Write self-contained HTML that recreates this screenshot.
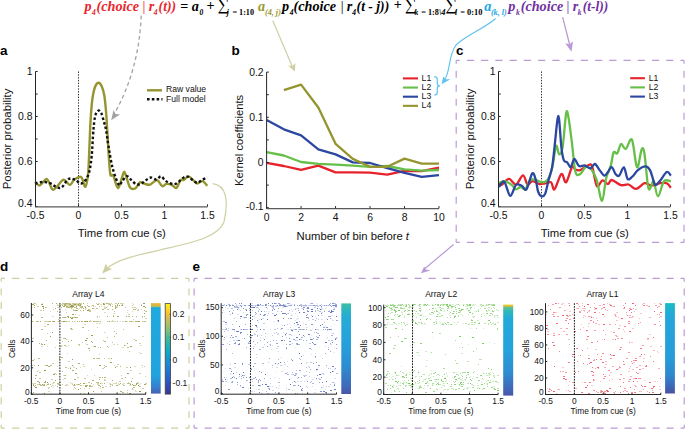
<!DOCTYPE html>
<html><head><meta charset="utf-8"><style>
html,body{margin:0;padding:0;background:#fff;overflow:hidden;}
svg{display:block;font-family:'Liberation Sans',sans-serif;}

</style></head><body>
<svg width="685" height="429" viewBox="0 0 685 429">
<rect width="685" height="429" fill="#fff"/>
<text x="84.6" y="10.6" font-family="'Liberation Serif', serif" font-size="14.2" font-weight="bold" font-style="italic" fill="#e8262d">p</text>
<text x="91.9" y="14.6" font-family="'Liberation Serif', serif" font-size="7.5" font-weight="bold" font-style="italic" fill="#e8262d">4</text>
<text x="96.6" y="10.6" font-family="'Liberation Serif', serif" font-size="14.2" font-weight="bold" font-style="italic" fill="#e8262d">(choice</text>
<text x="142.6" y="10.6" font-family="'Liberation Serif', serif" font-size="14.2" font-weight="normal" font-style="normal" fill="#e8262d">|</text>
<text x="148.7" y="10.6" font-family="'Liberation Serif', serif" font-size="14.2" font-weight="bold" font-style="italic" fill="#e8262d">r</text>
<text x="153.7" y="14.6" font-family="'Liberation Serif', serif" font-size="7.5" font-weight="bold" font-style="italic" fill="#e8262d">4</text>
<text x="158.6" y="10.6" font-family="'Liberation Serif', serif" font-size="14.2" font-weight="bold" font-style="italic" fill="#e8262d" textLength="17.6" lengthAdjust="spacingAndGlyphs">(t))</text>
<text x="180.2" y="10.6" font-family="'Liberation Serif', serif" font-size="14.2" font-weight="bold" font-style="normal" fill="#000">=</text>
<text x="191.7" y="10.6" font-family="'Liberation Serif', serif" font-size="14.2" font-weight="bold" font-style="italic" fill="#000">a</text>
<text x="199.4" y="14.6" font-family="'Liberation Serif', serif" font-size="7.5" font-weight="bold" font-style="italic" fill="#000">0</text>
<text x="206.4" y="9.8" font-family="'Liberation Serif', serif" font-size="14.2" font-weight="bold" font-style="normal" fill="#000">+</text>
<text x="217.5" y="9.9" font-family="'Liberation Serif', serif" font-size="16.3" font-weight="normal" font-style="normal" fill="#000">&#8721;</text>
<text x="226.8" y="15.1" font-family="'Liberation Serif', serif" font-size="7.5" font-weight="bold" font-style="italic" fill="#000">j</text>
<text x="232.4" y="15.1" font-family="'Liberation Serif', serif" font-size="7.5" font-weight="bold" font-style="normal" fill="#000" textLength="21.6" lengthAdjust="spacingAndGlyphs">= 1:10</text>
<text x="258" y="10.6" font-family="'Liberation Serif', serif" font-size="14.2" font-weight="bold" font-style="italic" fill="#9a992e">a</text>
<text x="264.9" y="14.9" font-family="'Liberation Serif', serif" font-size="7.2" font-weight="bold" font-style="italic" fill="#9a992e" textLength="16" lengthAdjust="spacingAndGlyphs">(4, j)</text>
<text x="282" y="10.6" font-family="'Liberation Serif', serif" font-size="14.2" font-weight="bold" font-style="italic" fill="#000">p</text>
<text x="289.8" y="14.6" font-family="'Liberation Serif', serif" font-size="7.5" font-weight="bold" font-style="italic" fill="#000">4</text>
<text x="293.6" y="10.6" font-family="'Liberation Serif', serif" font-size="14.2" font-weight="bold" font-style="italic" fill="#000">(choice</text>
<text x="340.7" y="10.6" font-family="'Liberation Serif', serif" font-size="14.2" font-weight="normal" font-style="normal" fill="#000">|</text>
<text x="346.7" y="10.6" font-family="'Liberation Serif', serif" font-size="14.2" font-weight="bold" font-style="italic" fill="#000">r</text>
<text x="352.2" y="14.6" font-family="'Liberation Serif', serif" font-size="7.5" font-weight="bold" font-style="italic" fill="#000">4</text>
<text x="356.6" y="10.6" font-family="'Liberation Serif', serif" font-size="14.2" font-weight="bold" font-style="italic" fill="#000" textLength="32.6" lengthAdjust="spacingAndGlyphs">(t - j))</text>
<text x="393.8" y="9.4" font-family="'Liberation Serif', serif" font-size="14.2" font-weight="bold" font-style="normal" fill="#000">+</text>
<text x="404.8" y="9.9" font-family="'Liberation Serif', serif" font-size="16.3" font-weight="normal" font-style="normal" fill="#000">&#8721;</text>
<text x="414.6" y="15.1" font-family="'Liberation Serif', serif" font-size="7.5" font-weight="bold" font-style="italic" fill="#000">k</text>
<text x="421.2" y="15.1" font-family="'Liberation Serif', serif" font-size="7.5" font-weight="bold" font-style="normal" fill="#000" textLength="17.6" lengthAdjust="spacingAndGlyphs">= 1:8</text>
<text x="439" y="15.1" font-family="'Liberation Serif', serif" font-size="7.5" font-weight="bold" font-style="italic" fill="#000" textLength="6.6" lengthAdjust="spacingAndGlyphs">\4</text>
<text x="445.2" y="9.9" font-family="'Liberation Serif', serif" font-size="16.3" font-weight="normal" font-style="normal" fill="#000">&#8721;</text>
<text x="455" y="15.1" font-family="'Liberation Serif', serif" font-size="7.5" font-weight="bold" font-style="italic" fill="#000">l</text>
<text x="460.2" y="15.1" font-family="'Liberation Serif', serif" font-size="7.5" font-weight="bold" font-style="normal" fill="#000" textLength="22.2" lengthAdjust="spacingAndGlyphs">= 0:10</text>
<text x="484.3" y="10.6" font-family="'Liberation Serif', serif" font-size="14.2" font-weight="bold" font-style="italic" fill="#1ea5e6">a</text>
<text x="490.9" y="14.9" font-family="'Liberation Serif', serif" font-size="7.2" font-weight="bold" font-style="italic" fill="#1ea5e6" textLength="15.8" lengthAdjust="spacingAndGlyphs">(k, l)</text>
<text x="508.3" y="10.6" font-family="'Liberation Serif', serif" font-size="14.2" font-weight="bold" font-style="italic" fill="#7031a0">p</text>
<text x="515.9" y="14.6" font-family="'Liberation Serif', serif" font-size="7.5" font-weight="bold" font-style="italic" fill="#7031a0">k</text>
<text x="520.7" y="10.6" font-family="'Liberation Serif', serif" font-size="14.2" font-weight="bold" font-style="italic" fill="#7031a0">(choice</text>
<text x="566.4" y="10.6" font-family="'Liberation Serif', serif" font-size="14.2" font-weight="normal" font-style="normal" fill="#7031a0">|</text>
<text x="572.8" y="10.6" font-family="'Liberation Serif', serif" font-size="14.2" font-weight="bold" font-style="italic" fill="#7031a0">r</text>
<text x="577.8" y="14.6" font-family="'Liberation Serif', serif" font-size="7.5" font-weight="bold" font-style="italic" fill="#7031a0">k</text>
<text x="582.8" y="10.6" font-family="'Liberation Serif', serif" font-size="14.2" font-weight="bold" font-style="italic" fill="#7031a0" textLength="25.6" lengthAdjust="spacingAndGlyphs">(t-l))</text>
<text x="0" y="55" font-family="'Liberation Sans', sans-serif" font-size="13.5" fill="#000" text-anchor="start" font-weight="bold" font-style="normal" >a</text>
<line x1="78.5" y1="71.5" x2="78.5" y2="206.5" stroke="#333" stroke-width="1" stroke-dasharray="1.4 1.4"/>
<path d="M35,181.9 C35.82,182.48 37.92,185.87 39.9,185.4 C41.88,184.93 44.8,178.4 46.9,179.1 C49,179.8 50.75,188.43 52.5,189.6 C54.25,190.77 55.55,187.73 57.4,186.1 C59.25,184.47 61.52,179.98 63.6,179.8 C65.68,179.62 68.15,185 69.9,185 C71.65,185 72.23,181.13 74.1,179.8 C75.97,178.47 79.23,175.83 81.1,177 C82.97,178.17 84.13,187.38 85.3,186.8 C86.47,186.22 87.43,179.63 88.1,173.5 C88.77,167.37 88.88,158.92 89.3,150 C89.72,141.08 90.07,128.67 90.6,120 C91.13,111.33 91.77,103.5 92.5,98 C93.23,92.5 94.03,89.55 95,87 C95.97,84.45 97.2,82.87 98.3,82.7 C99.4,82.53 100.58,83.78 101.6,86 C102.62,88.22 103.62,91.17 104.4,96 C105.18,100.83 105.73,107.67 106.3,115 C106.87,122.33 107.32,132.17 107.8,140 C108.28,147.83 108.75,156.17 109.2,162 C109.65,167.83 109.82,172.73 110.5,175 C111.18,177.27 112.03,173.4 113.3,175.6 C114.57,177.8 116.42,188.6 118.1,188.2 C119.78,187.8 122.18,175.55 123.4,173.2 C124.62,170.85 124.28,171.72 125.4,174.1 C126.52,176.48 128.42,185.15 130.1,187.5 C131.78,189.85 133.82,189.08 135.5,188.2 C137.18,187.32 138.63,182.92 140.2,182.2 C141.77,181.48 143.23,183.5 144.9,183.9 C146.57,184.3 148.18,185.23 150.2,184.6 C152.22,183.97 154.98,179.83 157,180.1 C159.02,180.37 160.75,185.57 162.3,186.2 C163.85,186.83 164.73,184.13 166.3,183.9 C167.87,183.67 170.02,184.13 171.7,184.8 C173.38,185.47 174.93,188.68 176.4,187.9 C177.87,187.12 179.27,181.43 180.5,180.1 C181.73,178.77 182.47,180.52 183.8,179.9 C185.13,179.28 186.93,176.37 188.5,176.4 C190.07,176.43 191.75,178.92 193.2,180.1 C194.65,181.28 195.63,183.32 197.2,183.5 C198.77,183.68 200.92,180.82 202.6,181.2 C204.28,181.58 206.52,185.03 207.3,185.8" fill="none" stroke="#959530" stroke-width="2.4" stroke-linejoin="round" />
<path d="M35,183.3 C36.4,183.08 40.83,182 43.4,182 C45.97,182 48.3,182.5 50.4,183.3 C52.5,184.1 54.13,186.1 56,186.8 C57.87,187.5 59.52,188.78 61.6,187.5 C63.68,186.22 66.18,180.38 68.5,179.1 C70.82,177.82 73.63,179.1 75.5,179.8 C77.37,180.5 78.3,182.93 79.7,183.3 C81.1,183.67 82.38,183.63 83.9,182 C85.42,180.37 87.52,177.7 88.8,173.5 C90.08,169.3 90.83,164.05 91.6,156.8 C92.37,149.55 92.8,136.8 93.4,130 C94,123.2 94.42,119.22 95.2,116 C95.98,112.78 97.1,111.2 98.1,110.7 C99.1,110.2 100.22,111.12 101.2,113 C102.18,114.88 103.18,119.17 104,122 C104.82,124.83 105.37,126.07 106.1,130 C106.83,133.93 107.32,139.27 108.4,145.6 C109.48,151.93 110.87,161.48 112.6,168 C114.33,174.52 117.23,182.45 118.8,184.7 C120.37,186.95 120.68,182.93 122,181.5 C123.32,180.07 125.13,176.33 126.7,176.1 C128.27,175.87 129.83,178.75 131.4,180.1 C132.97,181.45 134.53,183.57 136.1,184.2 C137.67,184.83 139.12,184.58 140.8,183.9 C142.48,183.22 144.52,181.17 146.2,180.1 C147.88,179.03 149.22,177.6 150.9,177.5 C152.58,177.4 154.62,179.68 156.3,179.5 C157.98,179.32 159.55,176.25 161,176.4 C162.45,176.55 163.67,179.33 165,180.4 C166.33,181.47 167.43,182.17 169,182.8 C170.57,183.43 172.72,184.42 174.4,184.2 C176.08,183.98 177.53,182.62 179.1,181.5 C180.67,180.38 182.23,178.28 183.8,177.5 C185.37,176.72 187.05,176.4 188.5,176.8 C189.95,177.2 191.05,178.9 192.5,179.9 C193.95,180.9 195.63,182.77 197.2,182.8 C198.77,182.83 200.22,181.03 201.9,180.1 C203.58,179.17 206.4,177.68 207.3,177.2" fill="none" stroke="#111" stroke-width="2.4" stroke-linejoin="round" stroke-dasharray="2.6 2.2"/>
<line x1="35.5" y1="71.5" x2="35.5" y2="207" stroke="#262626" stroke-width="1" />
<line x1="35.5" y1="206.5" x2="37.7" y2="206.5" stroke="#262626" stroke-width="1" />
<line x1="35.5" y1="184" x2="37.7" y2="184" stroke="#262626" stroke-width="1" />
<line x1="35.5" y1="161.5" x2="37.7" y2="161.5" stroke="#262626" stroke-width="1" />
<line x1="35.5" y1="139" x2="37.7" y2="139" stroke="#262626" stroke-width="1" />
<line x1="35.5" y1="116.5" x2="37.7" y2="116.5" stroke="#262626" stroke-width="1" />
<line x1="35.5" y1="94" x2="37.7" y2="94" stroke="#262626" stroke-width="1" />
<line x1="35.5" y1="71.5" x2="37.7" y2="71.5" stroke="#262626" stroke-width="1" />
<text x="32.5" y="75.22" font-family="'Liberation Sans', sans-serif" font-size="10.4" fill="#111" text-anchor="end" font-weight="normal" font-style="normal" >1</text>
<text x="32.5" y="120.22" font-family="'Liberation Sans', sans-serif" font-size="10.4" fill="#111" text-anchor="end" font-weight="normal" font-style="normal" >0.8</text>
<text x="32.5" y="165.22" font-family="'Liberation Sans', sans-serif" font-size="10.4" fill="#111" text-anchor="end" font-weight="normal" font-style="normal" >0.6</text>
<text x="32.5" y="206.62" font-family="'Liberation Sans', sans-serif" font-size="10.4" fill="#111" text-anchor="end" font-weight="normal" font-style="normal" >0.4</text>
<line x1="35" y1="206.9" x2="207.5" y2="206.9" stroke="#5a5a5a" stroke-width="1.2" />
<line x1="35.5" y1="206.5" x2="35.5" y2="204.3" stroke="#262626" stroke-width="1" />
<line x1="78.5" y1="206.5" x2="78.5" y2="204.3" stroke="#262626" stroke-width="1" />
<line x1="121.5" y1="206.5" x2="121.5" y2="204.3" stroke="#262626" stroke-width="1" />
<line x1="164.5" y1="206.5" x2="164.5" y2="204.3" stroke="#262626" stroke-width="1" />
<line x1="207.5" y1="206.5" x2="207.5" y2="204.3" stroke="#262626" stroke-width="1" />
<text x="35.5" y="219.1" font-family="'Liberation Sans', sans-serif" font-size="10.4" fill="#111" text-anchor="middle" font-weight="normal" font-style="normal" >-0.5</text>
<text x="78.5" y="219.1" font-family="'Liberation Sans', sans-serif" font-size="10.4" fill="#111" text-anchor="middle" font-weight="normal" font-style="normal" >0</text>
<text x="121.5" y="219.1" font-family="'Liberation Sans', sans-serif" font-size="10.4" fill="#111" text-anchor="middle" font-weight="normal" font-style="normal" >0.5</text>
<text x="164.5" y="219.1" font-family="'Liberation Sans', sans-serif" font-size="10.4" fill="#111" text-anchor="middle" font-weight="normal" font-style="normal" >1</text>
<text x="207.5" y="219.1" font-family="'Liberation Sans', sans-serif" font-size="10.4" fill="#111" text-anchor="middle" font-weight="normal" font-style="normal" >1.5</text>
<text transform="translate(10.9,138.9) rotate(-90)" x="0" y="0" font-family="&quot;Liberation Sans&quot;, sans-serif" font-size="11.4" fill="#111" text-anchor="middle">Posterior probability</text>
<text x="77.8" y="236.9" font-family="'Liberation Sans', sans-serif" font-size="11.3" fill="#111" text-anchor="start" font-weight="normal" font-style="normal" >Time from cue (s)</text>
<line x1="147" y1="90.3" x2="162" y2="90.3" stroke="#959530" stroke-width="2.4" />
<line x1="147" y1="99.3" x2="162.5" y2="99.3" stroke="#111" stroke-width="2.4" stroke-dasharray="2.6 2.2"/>
<text x="166" y="92.2" font-family="'Liberation Sans', sans-serif" font-size="8.6" fill="#111" text-anchor="start" font-weight="normal" font-style="normal" >Raw value</text>
<text x="166" y="101.6" font-family="'Liberation Sans', sans-serif" font-size="8.6" fill="#111" text-anchor="start" font-weight="normal" font-style="normal" >Full model</text>
<text x="231.5" y="54.8" font-family="'Liberation Sans', sans-serif" font-size="13.5" fill="#000" text-anchor="start" font-weight="bold" font-style="normal" >b</text>
<polyline points="266.6,162.8 283.84,166 301.08,169.8 318.32,165.6 335.56,172.4 352.8,172.4 370.04,172.6 387.28,174.7 404.52,170.8 421.76,171.2 439,167.7" fill="none" stroke="#e8222b" stroke-width="2.3" stroke-linejoin="round" stroke-linecap="butt" />
<polyline points="266.6,152.2 283.84,155.5 301.08,162 318.32,163.9 335.56,164.7 352.8,165.6 370.04,166.8 387.28,166 404.52,169.4 421.76,170.6 439,170" fill="none" stroke="#66bf48" stroke-width="2.3" stroke-linejoin="round" stroke-linecap="butt" />
<polyline points="266.6,120 283.84,129.3 301.08,135.4 318.32,149.4 335.56,154.4 352.8,162.4 370.04,163 387.28,168.2 404.52,172.9 421.76,176.8 439,175.2" fill="none" stroke="#2c47a0" stroke-width="2.3" stroke-linejoin="round" stroke-linecap="butt" />
<polyline points="283.84,90.2 301.08,84.6 318.32,107.5 335.56,143.8 352.8,158.9 370.04,166.8 387.28,166.8 404.52,158.6 421.76,163.6 439,163.6" fill="none" stroke="#959530" stroke-width="2.3" stroke-linejoin="round" stroke-linecap="butt" />
<line x1="266.6" y1="72.1" x2="266.6" y2="208.8" stroke="#262626" stroke-width="1" />
<line x1="266.6" y1="72.1" x2="268.8" y2="72.1" stroke="#262626" stroke-width="1" />
<line x1="266.6" y1="94.7" x2="268.8" y2="94.7" stroke="#262626" stroke-width="1" />
<line x1="266.6" y1="117.3" x2="268.8" y2="117.3" stroke="#262626" stroke-width="1" />
<line x1="266.6" y1="139.9" x2="268.8" y2="139.9" stroke="#262626" stroke-width="1" />
<line x1="266.6" y1="162.5" x2="268.8" y2="162.5" stroke="#262626" stroke-width="1" />
<line x1="266.6" y1="185.1" x2="268.8" y2="185.1" stroke="#262626" stroke-width="1" />
<line x1="266.6" y1="207.7" x2="268.8" y2="207.7" stroke="#262626" stroke-width="1" />
<text x="263.6" y="75.82" font-family="'Liberation Sans', sans-serif" font-size="10.4" fill="#111" text-anchor="end" font-weight="normal" font-style="normal" >0.2</text>
<text x="263.6" y="121.02" font-family="'Liberation Sans', sans-serif" font-size="10.4" fill="#111" text-anchor="end" font-weight="normal" font-style="normal" >0.1</text>
<text x="263.6" y="166.22" font-family="'Liberation Sans', sans-serif" font-size="10.4" fill="#111" text-anchor="end" font-weight="normal" font-style="normal" >0</text>
<text x="263.6" y="209.82" font-family="'Liberation Sans', sans-serif" font-size="10.4" fill="#111" text-anchor="end" font-weight="normal" font-style="normal" >-0.1</text>
<line x1="266.1" y1="208.6" x2="439" y2="208.6" stroke="#5a5a5a" stroke-width="1.2" />
<line x1="266.6" y1="208.3" x2="266.6" y2="206.1" stroke="#262626" stroke-width="1" />
<line x1="301.08" y1="208.3" x2="301.08" y2="206.1" stroke="#262626" stroke-width="1" />
<line x1="335.56" y1="208.3" x2="335.56" y2="206.1" stroke="#262626" stroke-width="1" />
<line x1="370.04" y1="208.3" x2="370.04" y2="206.1" stroke="#262626" stroke-width="1" />
<line x1="404.52" y1="208.3" x2="404.52" y2="206.1" stroke="#262626" stroke-width="1" />
<line x1="439" y1="208.3" x2="439" y2="206.1" stroke="#262626" stroke-width="1" />
<text x="266.6" y="221.2" font-family="'Liberation Sans', sans-serif" font-size="10.4" fill="#111" text-anchor="middle" font-weight="normal" font-style="normal" >0</text>
<text x="301.08" y="221.2" font-family="'Liberation Sans', sans-serif" font-size="10.4" fill="#111" text-anchor="middle" font-weight="normal" font-style="normal" >2</text>
<text x="335.56" y="221.2" font-family="'Liberation Sans', sans-serif" font-size="10.4" fill="#111" text-anchor="middle" font-weight="normal" font-style="normal" >4</text>
<text x="370.04" y="221.2" font-family="'Liberation Sans', sans-serif" font-size="10.4" fill="#111" text-anchor="middle" font-weight="normal" font-style="normal" >6</text>
<text x="404.52" y="221.2" font-family="'Liberation Sans', sans-serif" font-size="10.4" fill="#111" text-anchor="middle" font-weight="normal" font-style="normal" >8</text>
<text x="439" y="221.2" font-family="'Liberation Sans', sans-serif" font-size="10.4" fill="#111" text-anchor="middle" font-weight="normal" font-style="normal" >10</text>
<text transform="translate(243,140.4) rotate(-90)" x="0" y="0" font-family="&quot;Liberation Sans&quot;, sans-serif" font-size="11.2" fill="#111" text-anchor="middle">Kernel coefficients</text>
<text x="296.6" y="239.7" font-family="'Liberation Sans', sans-serif" font-size="11.3" fill="#111" text-anchor="start" font-weight="normal" font-style="normal" >Number of bin before <tspan font-style="italic">t</tspan></text>
<line x1="402.9" y1="78.4" x2="418" y2="78.4" stroke="#e8222b" stroke-width="2.1" />
<text x="421.6" y="80.6" font-family="'Liberation Sans', sans-serif" font-size="8.7" fill="#111" text-anchor="start" font-weight="normal" font-style="normal" >L1</text>
<line x1="402.9" y1="87.55" x2="418" y2="87.55" stroke="#66bf48" stroke-width="2.1" />
<text x="421.6" y="89.75" font-family="'Liberation Sans', sans-serif" font-size="8.7" fill="#111" text-anchor="start" font-weight="normal" font-style="normal" >L2</text>
<line x1="402.9" y1="96.7" x2="418" y2="96.7" stroke="#2c47a0" stroke-width="2.1" />
<text x="421.6" y="98.9" font-family="'Liberation Sans', sans-serif" font-size="8.7" fill="#111" text-anchor="start" font-weight="normal" font-style="normal" >L3</text>
<line x1="402.9" y1="105.85" x2="418" y2="105.85" stroke="#959530" stroke-width="2.1" />
<text x="421.6" y="108.05" font-family="'Liberation Sans', sans-serif" font-size="8.7" fill="#111" text-anchor="start" font-weight="normal" font-style="normal" >L4</text>
<path d="M434.3,76.6 q3,0 3,3 v3.6 q0,2.6 2.6,2.6 q-2.6,0 -2.6,2.6 v3.6 q0,3 -3,3" fill="none" stroke="#5fc3ee" stroke-width="1.2"/>
<text x="456" y="55" font-family="'Liberation Sans', sans-serif" font-size="13.5" fill="#000" text-anchor="start" font-weight="bold" font-style="normal" >c</text>
<path d="M456.2,60.3 L684,60.3" stroke="#bb9bd6" stroke-width="1.2" fill="none" stroke-dasharray="7.19 7.05" stroke-dashoffset="3.59"/>
<path d="M456.2,60.3 L456.2,242.4" stroke="#bb9bd6" stroke-width="1.2" fill="none" stroke-dasharray="7.07 6.93" stroke-dashoffset="3.54"/>
<path d="M684,60.3 L684,242.4" stroke="#bb9bd6" stroke-width="1.2" fill="none" stroke-dasharray="7.07 6.93" stroke-dashoffset="3.54"/>
<path d="M456.2,242.4 L684,242.4" stroke="#bb9bd6" stroke-width="1.2" fill="none" stroke-dasharray="7.19 7.05" stroke-dashoffset="3.59"/>
<line x1="541.5" y1="71.5" x2="541.5" y2="206.5" stroke="#333" stroke-width="1" stroke-dasharray="1.4 1.4"/>
<path d="M499,185.6 C499.5,185.43 500.33,185.73 502,184.6 C503.67,183.47 506.67,178.8 509,178.8 C511.33,178.8 513.67,185.18 516,184.6 C518.33,184.02 521.07,175.3 523,175.3 C524.93,175.3 526.05,183.63 527.6,184.6 C529.15,185.57 530.35,181.18 532.3,181.1 C534.25,181.02 537.17,183.72 539.3,184.1 C541.43,184.48 543.15,183.7 545.1,183.4 C547.05,183.1 549.43,181.32 551,182.3 C552.57,183.28 552.77,190.67 554.5,189.3 C556.23,187.93 559.47,175.27 561.4,174.1 C563.33,172.93 564.33,183.47 566.1,182.3 C567.87,181.13 570.45,169.23 572,167.1 C573.55,164.97 574.07,169 575.4,169.5 C576.73,170 577.98,170.77 580,170.1 C582.02,169.43 585.48,166.12 587.5,165.5 C589.52,164.88 590.55,162.98 592.1,166.4 C593.65,169.82 595.08,183.67 596.8,186 C598.52,188.33 600.53,180.72 602.4,180.4 C604.27,180.08 606.45,184.17 608,184.1 C609.55,184.03 609.52,179.83 611.7,180 C613.88,180.17 618.3,184.35 621.1,185.1 C623.9,185.85 626.02,183.88 628.5,184.5 C630.98,185.12 633.35,189.02 636,188.8 C638.65,188.58 642.07,183.82 644.4,183.2 C646.73,182.58 648.28,184.78 650,185.1 C651.72,185.42 652.98,185.42 654.7,185.1 C656.42,184.78 658.28,183.52 660.3,183.2 C662.32,182.88 665.03,182.43 666.8,183.2 C668.57,183.97 670.22,187.03 670.9,187.8" fill="none" stroke="#e8222b" stroke-width="2.3" stroke-linejoin="round" />
<path d="M499,183 C499.88,182.68 502.25,180.83 504.3,181.1 C506.35,181.37 509.35,183.23 511.3,184.6 C513.25,185.97 514.45,188.9 516,189.3 C517.55,189.7 519.05,187 520.6,187 C522.15,187 523.73,190.47 525.3,189.3 C526.87,188.13 528.25,181.55 530,180 C531.75,178.45 533.87,179.62 535.8,180 C537.73,180.38 539.65,182.3 541.6,182.3 C543.55,182.3 545.75,182.33 547.5,180 C549.25,177.67 550.67,173.95 552.1,168.3 C553.53,162.65 554.93,148.43 556.1,146.1 C557.27,143.77 558.02,154.1 559.1,154.3 C560.18,154.5 561.43,154.1 562.6,147.3 C563.77,140.5 565.13,118.55 566.1,113.5 C567.07,108.45 567.43,112.15 568.4,117 C569.37,121.85 570.73,133.47 571.9,142.6 C573.07,151.73 574.03,166.55 575.4,171.8 C576.77,177.05 578.4,174.85 580.1,174.1 C581.8,173.35 583.75,168.12 585.6,167.3 C587.45,166.48 589.33,167.02 591.2,169.2 C593.07,171.38 595,175.12 596.8,180.4 C598.6,185.68 600.45,201.22 602,200.9 C603.55,200.58 604.63,184.4 606.1,178.5 C607.57,172.6 609.55,169.85 610.8,165.5 C612.05,161.15 612.52,154.43 613.6,152.4 C614.68,150.37 616.05,154.7 617.3,153.3 C618.55,151.9 619.7,144.72 621.1,144 C622.5,143.28 623.9,149.72 625.7,149 C627.5,148.28 630.02,136.65 631.9,139.7 C633.78,142.75 635.38,165.65 637,167.3 C638.62,168.95 640.37,151.93 641.6,149.6 C642.83,147.27 643.32,147.08 644.4,153.3 C645.48,159.52 647.02,181.3 648.1,186.9 C649.18,192.5 649.97,187.83 650.9,186.9 C651.83,185.97 652.52,179.73 653.7,181.3 C654.88,182.87 656.28,196.3 658,196.3 C659.72,196.3 661.85,183.8 664,181.3 C666.15,178.8 669.75,181.3 670.9,181.3" fill="none" stroke="#66bf48" stroke-width="2.3" stroke-linejoin="round" />
<path d="M499,187 C499.88,186.13 502.43,180.33 504.3,181.8 C506.17,183.27 508.25,195.27 510.2,195.8 C512.15,196.33 514.07,186.67 516,185 C517.93,183.33 520.05,185.08 521.8,185.8 C523.55,186.52 524.75,191.37 526.5,189.3 C528.25,187.23 530.75,174.95 532.3,173.4 C533.85,171.85 534.83,176.97 535.8,180 C536.77,183.03 537.13,188.88 538.1,191.6 C539.07,194.32 540.43,195.92 541.6,196.3 C542.77,196.68 543.93,196.62 545.1,193.9 C546.27,191.18 547.43,184.47 548.6,180 C549.77,175.53 551.12,172.55 552.1,167.1 C553.08,161.65 553.6,155.27 554.5,147.3 C555.4,139.33 556.73,123.97 557.5,119.3 C558.27,114.63 558.45,114.63 559.1,119.3 C559.75,123.97 560.62,140.5 561.4,147.3 C562.18,154.1 562.82,157.57 563.8,160.1 C564.78,162.63 566.13,161.33 567.3,162.5 C568.47,163.67 569.63,167.68 570.8,167.1 C571.97,166.52 572.93,159.18 574.3,159 C575.67,158.82 577.27,164.92 579,166 C580.73,167.08 582.82,165.12 584.7,165.5 C586.58,165.88 588.6,168.55 590.3,168.3 C592,168.05 593.35,163.7 594.9,164 C596.45,164.3 598.03,168.15 599.6,170.1 C601.17,172.05 602.9,175.38 604.3,175.7 C605.7,176.02 606.77,173.45 608,172 C609.23,170.55 610.45,166.68 611.7,167 C612.95,167.32 614.25,172.45 615.5,173.9 C616.75,175.35 617.8,176.8 619.2,175.7 C620.6,174.6 622.5,166.77 623.9,167.3 C625.3,167.83 626.2,177.33 627.6,178.9 C629,180.47 630.58,178.17 632.3,176.7 C634.02,175.23 635.73,171.82 637.9,170.1 C640.07,168.38 643.28,166.4 645.3,166.4 C647.32,166.4 648.6,167.62 650,170.1 C651.4,172.58 652.77,178.8 653.7,181.3 C654.63,183.8 654.5,185.25 655.6,185.1 C656.7,184.95 658.43,182.58 660.3,180.4 C662.17,178.22 665.03,172.78 666.8,172 C668.57,171.22 670.22,175.08 670.9,175.7" fill="none" stroke="#2c47a0" stroke-width="2.3" stroke-linejoin="round" />
<line x1="498.5" y1="71.5" x2="498.5" y2="207" stroke="#262626" stroke-width="1" />
<line x1="498.5" y1="206.5" x2="500.7" y2="206.5" stroke="#262626" stroke-width="1" />
<line x1="498.5" y1="184" x2="500.7" y2="184" stroke="#262626" stroke-width="1" />
<line x1="498.5" y1="161.5" x2="500.7" y2="161.5" stroke="#262626" stroke-width="1" />
<line x1="498.5" y1="139" x2="500.7" y2="139" stroke="#262626" stroke-width="1" />
<line x1="498.5" y1="116.5" x2="500.7" y2="116.5" stroke="#262626" stroke-width="1" />
<line x1="498.5" y1="94" x2="500.7" y2="94" stroke="#262626" stroke-width="1" />
<line x1="498.5" y1="71.5" x2="500.7" y2="71.5" stroke="#262626" stroke-width="1" />
<text x="495.5" y="75.22" font-family="'Liberation Sans', sans-serif" font-size="10.4" fill="#111" text-anchor="end" font-weight="normal" font-style="normal" >1</text>
<text x="495.5" y="120.22" font-family="'Liberation Sans', sans-serif" font-size="10.4" fill="#111" text-anchor="end" font-weight="normal" font-style="normal" >0.8</text>
<text x="495.5" y="165.22" font-family="'Liberation Sans', sans-serif" font-size="10.4" fill="#111" text-anchor="end" font-weight="normal" font-style="normal" >0.6</text>
<text x="495.5" y="206.62" font-family="'Liberation Sans', sans-serif" font-size="10.4" fill="#111" text-anchor="end" font-weight="normal" font-style="normal" >0.4</text>
<line x1="498" y1="206.9" x2="670.5" y2="206.9" stroke="#5a5a5a" stroke-width="1.2" />
<line x1="498.5" y1="206.5" x2="498.5" y2="204.3" stroke="#262626" stroke-width="1" />
<line x1="541.5" y1="206.5" x2="541.5" y2="204.3" stroke="#262626" stroke-width="1" />
<line x1="584.5" y1="206.5" x2="584.5" y2="204.3" stroke="#262626" stroke-width="1" />
<line x1="627.5" y1="206.5" x2="627.5" y2="204.3" stroke="#262626" stroke-width="1" />
<line x1="670.5" y1="206.5" x2="670.5" y2="204.3" stroke="#262626" stroke-width="1" />
<text x="498.5" y="219.1" font-family="'Liberation Sans', sans-serif" font-size="10.4" fill="#111" text-anchor="middle" font-weight="normal" font-style="normal" >-0.5</text>
<text x="541.5" y="219.1" font-family="'Liberation Sans', sans-serif" font-size="10.4" fill="#111" text-anchor="middle" font-weight="normal" font-style="normal" >0</text>
<text x="584.5" y="219.1" font-family="'Liberation Sans', sans-serif" font-size="10.4" fill="#111" text-anchor="middle" font-weight="normal" font-style="normal" >0.5</text>
<text x="627.5" y="219.1" font-family="'Liberation Sans', sans-serif" font-size="10.4" fill="#111" text-anchor="middle" font-weight="normal" font-style="normal" >1</text>
<text x="670.5" y="219.1" font-family="'Liberation Sans', sans-serif" font-size="10.4" fill="#111" text-anchor="middle" font-weight="normal" font-style="normal" >1.5</text>
<text transform="translate(473.7,138.9) rotate(-90)" x="0" y="0" font-family="&quot;Liberation Sans&quot;, sans-serif" font-size="11.4" fill="#111" text-anchor="middle">Posterior probability</text>
<text x="540.8" y="236.9" font-family="'Liberation Sans', sans-serif" font-size="11.3" fill="#111" text-anchor="start" font-weight="normal" font-style="normal" >Time from cue (s)</text>
<line x1="630.2" y1="78.2" x2="644.9" y2="78.2" stroke="#e8222b" stroke-width="2.1" />
<text x="648.7" y="80.5" font-family="'Liberation Sans', sans-serif" font-size="8.7" fill="#111" text-anchor="start" font-weight="normal" font-style="normal" >L1</text>
<line x1="630.2" y1="87.4" x2="644.9" y2="87.4" stroke="#66bf48" stroke-width="2.1" />
<text x="648.7" y="89.7" font-family="'Liberation Sans', sans-serif" font-size="8.7" fill="#111" text-anchor="start" font-weight="normal" font-style="normal" >L2</text>
<line x1="630.2" y1="96.6" x2="644.9" y2="96.6" stroke="#2c47a0" stroke-width="2.1" />
<text x="648.7" y="98.9" font-family="'Liberation Sans', sans-serif" font-size="8.7" fill="#111" text-anchor="start" font-weight="normal" font-style="normal" >L3</text>
<text x="0" y="270.8" font-family="'Liberation Sans', sans-serif" font-size="13.5" fill="#000" text-anchor="start" font-weight="bold" font-style="normal" >d</text>
<path d="M1.2,278.3 L189,278.3" stroke="#cfcfa2" stroke-width="1.2" fill="none" stroke-dasharray="7.3 7.15" stroke-dashoffset="3.65"/>
<path d="M1.2,278.3 L1.2,428.2" stroke="#cfcfa2" stroke-width="1.2" fill="none" stroke-dasharray="6.88 6.75" stroke-dashoffset="3.44"/>
<path d="M189,278.3 L189,428.2" stroke="#cfcfa2" stroke-width="1.2" fill="none" stroke-dasharray="6.88 6.75" stroke-dashoffset="3.44"/>
<path d="M1.2,428.2 L189,428.2" stroke="#cfcfa2" stroke-width="1.2" fill="none" stroke-dasharray="7.3 7.15" stroke-dashoffset="3.65"/>
<path d="M42 303h1v1h-1zM77 303h2v1h-2zM98 303h2v1h-2zM104 303h2v1h-2zM122 303h1v1h-1zM123 303h1v1h-1zM132 303h1v1h-1zM36 304h1v1h-1zM57 304h1v1h-1zM62 304h1v1h-1zM63 304h1v1h-1zM67 304h1v1h-1zM71 304h2v1h-2zM100 304h2v1h-2zM112 304h1v1h-1zM141 304h1v1h-1zM66 305h1v1h-1zM67 305h2v1h-2zM75 305h1v1h-1zM76 305h1v1h-1zM77 305h1v1h-1zM68 306h2v1h-2zM79 306h2v1h-2zM84 306h2v1h-2zM95 306h1v1h-1zM104 306h1v1h-1zM116 306h2v1h-2zM57 307h2v1h-2zM104 307h1v1h-1zM105 307h1v1h-1zM117 307h1v1h-1zM79 308h1v1h-1zM81 308h1v1h-1zM85 308h2v1h-2zM94 308h1v1h-1zM65 309h1v1h-1zM78 309h1v1h-1zM141 309h1v1h-1zM127 310h1v1h-1zM50 311h1v1h-1zM132 311h1v1h-1zM104 312h2v1h-2zM127 312h1v1h-1zM113 313h2v1h-2zM79 315h1v1h-1zM113 315h1v1h-1zM52 316h2v1h-2zM66 317h1v1h-1zM71 317h1v1h-1zM33 321h1v1h-1zM44 321h1v1h-1zM67 321h2v1h-2zM74 321h2v1h-2zM90 321h2v1h-2zM99 321h1v1h-1zM113 321h1v1h-1zM114 321h2v1h-2zM120 321h1v1h-1zM122 321h2v1h-2zM127 321h1v1h-1zM44 323h1v1h-1zM96 323h2v1h-2zM99 323h2v1h-2zM84 324h2v1h-2zM104 332h2v1h-2zM142 336h2v1h-2zM66 339h2v1h-2zM113 344h2v1h-2zM61 345h2v1h-2zM125 345h1v1h-1zM140 345h2v1h-2zM41 346h2v1h-2zM47 346h1v1h-1zM93 346h1v1h-1zM98 347h1v1h-1zM122 347h2v1h-2zM139 352h1v1h-1zM67 353h1v1h-1zM96 358h1v1h-1zM44 365h2v1h-2zM114 365h1v1h-1zM141 365h2v1h-2zM73 366h1v1h-1zM83 366h2v1h-2zM134 366h2v1h-2zM70 367h1v1h-1zM73 367h2v1h-2zM80 367h1v1h-1zM142 367h1v1h-1zM91 369h1v1h-1zM63 375h1v1h-1zM87 375h1v1h-1zM63 379h1v1h-1zM107 382h1v1h-1zM137 382h2v1h-2zM32 383h2v1h-2zM39 383h1v1h-1zM52 383h2v1h-2zM71 383h2v1h-2zM86 383h1v1h-1zM101 383h2v1h-2zM109 383h2v1h-2zM113 383h2v1h-2zM115 383h2v1h-2zM118 383h1v1h-1zM123 383h2v1h-2zM138 383h1v1h-1zM140 383h1v1h-1zM43 384h1v1h-1zM57 384h1v1h-1zM66 384h1v1h-1zM67 384h1v1h-1zM76 384h1v1h-1zM93 384h1v1h-1zM97 384h2v1h-2zM111 384h2v1h-2zM122 384h2v1h-2zM139 384h1v1h-1zM42 385h1v1h-1zM46 385h1v1h-1zM52 385h2v1h-2zM55 385h1v1h-1zM68 385h1v1h-1zM75 385h1v1h-1zM83 385h1v1h-1zM129 385h2v1h-2zM105 386h2v1h-2zM48 387h2v1h-2zM53 387h1v1h-1zM98 387h1v1h-1zM84 388h1v1h-1zM100 388h1v1h-1zM132 389h2v1h-2zM135 390h1v1h-1zM48 391h2v1h-2zM135 391h2v1h-2zM145 392h2v1h-2z" fill="#8f8d2c" fill-opacity="0.3"/>
<path d="M33 303h2v1h-2zM35 303h1v1h-1zM74 303h2v1h-2zM76 303h1v1h-1zM80 303h2v1h-2zM87 303h1v1h-1zM96 303h1v1h-1zM120 303h2v1h-2zM61 304h1v1h-1zM79 304h1v1h-1zM81 304h1v1h-1zM108 304h1v1h-1zM133 304h1v1h-1zM57 305h2v1h-2zM69 305h2v1h-2zM37 306h2v1h-2zM93 306h1v1h-1zM99 306h1v1h-1zM101 306h1v1h-1zM107 306h1v1h-1zM70 307h1v1h-1zM75 307h2v1h-2zM125 307h1v1h-1zM132 307h2v1h-2zM134 307h2v1h-2zM104 308h2v1h-2zM136 308h1v1h-1zM53 309h1v1h-1zM73 309h1v1h-1zM85 309h1v1h-1zM40 310h2v1h-2zM74 310h1v1h-1zM66 312h1v1h-1zM75 314h1v1h-1zM128 314h2v1h-2zM99 316h1v1h-1zM97 317h1v1h-1zM142 317h1v1h-1zM145 318h2v1h-2zM58 319h1v1h-1zM133 319h1v1h-1zM90 320h1v1h-1zM112 320h1v1h-1zM46 321h2v1h-2zM62 321h1v1h-1zM69 321h1v1h-1zM107 321h2v1h-2zM111 321h2v1h-2zM132 321h2v1h-2zM142 321h2v1h-2zM44 326h2v1h-2zM97 327h1v1h-1zM47 333h1v1h-1zM32 338h2v1h-2zM41 343h1v1h-1zM139 343h2v1h-2zM86 344h2v1h-2zM68 345h1v1h-1zM60 346h2v1h-2zM66 346h1v1h-1zM55 347h1v1h-1zM108 347h1v1h-1zM140 353h2v1h-2zM99 354h1v1h-1zM108 358h2v1h-2zM68 361h2v1h-2zM52 363h2v1h-2zM117 364h2v1h-2zM34 365h1v1h-1zM57 366h1v1h-1zM116 366h2v1h-2zM126 367h2v1h-2zM68 368h1v1h-1zM102 368h2v1h-2zM38 370h1v1h-1zM130 370h2v1h-2zM54 373h2v1h-2zM139 373h2v1h-2zM56 374h1v1h-1zM94 375h1v1h-1zM121 375h1v1h-1zM145 376h1v1h-1zM77 377h2v1h-2zM132 378h1v1h-1zM51 379h2v1h-2zM104 380h2v1h-2zM119 381h2v1h-2zM70 382h1v1h-1zM88 382h1v1h-1zM116 382h1v1h-1zM128 382h1v1h-1zM34 383h2v1h-2zM48 383h1v1h-1zM97 383h2v1h-2zM129 383h2v1h-2zM145 383h2v1h-2zM37 384h2v1h-2zM58 384h1v1h-1zM79 384h1v1h-1zM118 384h2v1h-2zM102 385h1v1h-1zM89 388h1v1h-1zM73 389h1v1h-1zM127 390h1v1h-1zM127 392h1v1h-1zM51 393h1v1h-1z" fill="#8f8d2c" fill-opacity="0.4"/>
<path d="M62 303h1v1h-1zM63 303h2v1h-2zM69 303h2v1h-2zM72 303h2v1h-2zM108 303h2v1h-2zM111 303h1v1h-1zM115 303h2v1h-2zM66 304h1v1h-1zM68 304h1v1h-1zM73 304h1v1h-1zM76 304h2v1h-2zM73 305h2v1h-2zM132 305h1v1h-1zM81 306h1v1h-1zM115 306h1v1h-1zM34 307h1v1h-1zM43 307h1v1h-1zM45 307h2v1h-2zM66 307h2v1h-2zM71 308h1v1h-1zM96 308h2v1h-2zM88 309h2v1h-2zM107 309h2v1h-2zM138 309h1v1h-1zM73 310h1v1h-1zM80 310h1v1h-1zM89 310h2v1h-2zM137 310h2v1h-2zM57 311h1v1h-1zM60 311h1v1h-1zM89 311h2v1h-2zM114 311h1v1h-1zM145 311h2v1h-2zM97 316h1v1h-1zM128 316h1v1h-1zM73 317h2v1h-2zM36 321h1v1h-1zM45 321h1v1h-1zM48 321h1v1h-1zM61 321h1v1h-1zM65 321h1v1h-1zM95 321h2v1h-2zM129 321h2v1h-2zM71 329h2v1h-2zM123 329h1v1h-1zM88 330h1v1h-1zM107 337h1v1h-1zM63 338h2v1h-2zM134 339h1v1h-1zM103 340h1v1h-1zM62 341h1v1h-1zM82 342h1v1h-1zM112 342h1v1h-1zM78 344h2v1h-2zM117 344h1v1h-1zM79 345h1v1h-1zM129 351h1v1h-1zM99 358h1v1h-1zM104 358h1v1h-1zM34 359h1v1h-1zM83 364h1v1h-1zM104 365h1v1h-1zM105 366h2v1h-2zM144 366h1v1h-1zM65 367h2v1h-2zM39 372h2v1h-2zM39 378h2v1h-2zM64 378h2v1h-2zM84 378h2v1h-2zM121 378h2v1h-2zM104 379h1v1h-1zM53 382h2v1h-2zM96 382h2v1h-2zM59 383h1v1h-1zM40 384h1v1h-1zM62 384h1v1h-1zM72 384h1v1h-1zM77 384h1v1h-1zM65 385h2v1h-2zM80 385h2v1h-2zM85 385h1v1h-1zM123 385h2v1h-2zM51 386h1v1h-1zM92 386h1v1h-1zM139 386h2v1h-2zM74 387h1v1h-1zM48 388h1v1h-1zM75 388h1v1h-1zM80 388h1v1h-1zM142 388h2v1h-2zM101 391h1v1h-1zM84 393h1v1h-1z" fill="#8f8d2c" fill-opacity="0.5"/>
<path d="M52 303h1v1h-1zM67 303h2v1h-2zM106 303h2v1h-2zM109 304h2v1h-2zM117 304h1v1h-1zM122 304h1v1h-1zM87 305h1v1h-1zM92 305h2v1h-2zM88 306h2v1h-2zM112 306h1v1h-1zM61 307h1v1h-1zM71 307h2v1h-2zM80 307h2v1h-2zM82 307h1v1h-1zM106 307h1v1h-1zM76 308h2v1h-2zM92 308h2v1h-2zM102 309h2v1h-2zM133 309h1v1h-1zM134 309h2v1h-2zM43 310h1v1h-1zM77 310h1v1h-1zM129 316h1v1h-1zM132 316h1v1h-1zM136 316h1v1h-1zM142 316h1v1h-1zM41 317h2v1h-2zM62 317h2v1h-2zM77 317h1v1h-1zM37 321h2v1h-2zM50 321h1v1h-1zM52 321h1v1h-1zM58 321h2v1h-2zM66 321h1v1h-1zM72 321h1v1h-1zM79 321h1v1h-1zM81 321h2v1h-2zM93 321h2v1h-2zM97 321h2v1h-2zM100 321h1v1h-1zM117 321h1v1h-1zM126 321h1v1h-1zM144 321h2v1h-2zM82 327h2v1h-2zM70 328h2v1h-2zM41 329h2v1h-2zM114 331h1v1h-1zM114 336h1v1h-1zM135 340h2v1h-2zM104 341h2v1h-2zM92 342h1v1h-1zM39 343h1v1h-1zM64 345h2v1h-2zM100 347h1v1h-1zM127 347h2v1h-2zM89 350h1v1h-1zM61 357h2v1h-2zM38 358h2v1h-2zM93 358h2v1h-2zM97 358h2v1h-2zM32 360h2v1h-2zM32 365h1v1h-1zM50 365h2v1h-2zM120 366h1v1h-1zM104 367h1v1h-1zM37 371h1v1h-1zM62 371h1v1h-1zM35 375h2v1h-2zM64 375h2v1h-2zM99 377h2v1h-2zM102 377h1v1h-1zM104 377h1v1h-1zM99 379h1v1h-1zM60 382h1v1h-1zM89 382h1v1h-1zM98 382h1v1h-1zM57 383h2v1h-2zM91 383h1v1h-1zM100 383h1v1h-1zM127 383h2v1h-2zM48 384h1v1h-1zM35 385h1v1h-1zM40 385h2v1h-2zM73 385h2v1h-2zM89 385h2v1h-2zM98 385h1v1h-1zM112 385h1v1h-1zM134 385h2v1h-2zM34 386h1v1h-1zM90 386h2v1h-2zM110 386h1v1h-1zM102 387h2v1h-2zM133 387h2v1h-2zM132 388h1v1h-1zM122 392h2v1h-2z" fill="#8f8d2c" fill-opacity="0.6"/>
<path d="M65 303h2v1h-2zM79 303h1v1h-1zM83 303h1v1h-1zM64 304h2v1h-2zM69 304h2v1h-2zM80 304h1v1h-1zM97 304h2v1h-2zM62 305h1v1h-1zM64 305h1v1h-1zM65 305h1v1h-1zM78 305h2v1h-2zM110 305h1v1h-1zM115 305h1v1h-1zM121 305h2v1h-2zM66 306h2v1h-2zM82 306h1v1h-1zM68 307h2v1h-2zM74 307h1v1h-1zM115 307h2v1h-2zM55 308h1v1h-1zM83 308h1v1h-1zM112 309h1v1h-1zM144 310h1v1h-1zM107 316h1v1h-1zM117 316h2v1h-2zM126 316h1v1h-1zM144 316h1v1h-1zM64 317h2v1h-2zM72 317h1v1h-1zM76 317h1v1h-1zM32 321h1v1h-1zM40 321h1v1h-1zM49 321h1v1h-1zM77 321h1v1h-1zM86 321h1v1h-1zM89 321h1v1h-1zM109 321h1v1h-1zM131 321h1v1h-1zM135 321h2v1h-2zM137 321h2v1h-2zM47 324h2v1h-2zM116 333h1v1h-1zM65 338h1v1h-1zM86 338h2v1h-2zM46 340h1v1h-1zM68 341h1v1h-1zM91 341h1v1h-1zM41 344h2v1h-2zM107 346h1v1h-1zM88 348h2v1h-2zM111 358h1v1h-1zM78 363h2v1h-2zM48 366h2v1h-2zM76 368h1v1h-1zM72 370h2v1h-2zM105 377h1v1h-1zM125 377h1v1h-1zM35 378h1v1h-1zM74 379h2v1h-2zM92 380h2v1h-2zM112 380h1v1h-1zM37 381h2v1h-2zM44 382h2v1h-2zM80 383h1v1h-1zM104 383h1v1h-1zM120 383h1v1h-1zM136 383h2v1h-2zM33 384h1v1h-1zM39 384h1v1h-1zM44 384h1v1h-1zM47 384h1v1h-1zM50 384h1v1h-1zM110 384h1v1h-1zM43 385h2v1h-2zM86 385h2v1h-2zM99 385h1v1h-1zM116 385h2v1h-2zM57 386h1v1h-1zM89 386h1v1h-1zM120 391h2v1h-2zM33 392h1v1h-1zM80 393h1v1h-1z" fill="#8f8d2c" fill-opacity="0.7"/>
<path d="M56 303h1v1h-1zM118 303h1v1h-1zM143 303h1v1h-1zM32 304h2v1h-2zM41 304h2v1h-2zM74 304h2v1h-2zM78 304h1v1h-1zM103 304h2v1h-2zM71 305h2v1h-2zM119 305h1v1h-1zM141 305h1v1h-1zM63 306h2v1h-2zM76 306h1v1h-1zM143 306h1v1h-1zM145 307h1v1h-1zM43 308h1v1h-1zM115 308h1v1h-1zM75 310h2v1h-2zM83 310h1v1h-1zM144 313h1v1h-1zM72 314h2v1h-2zM67 316h2v1h-2zM113 316h1v1h-1zM68 317h1v1h-1zM70 317h1v1h-1zM75 317h1v1h-1zM53 321h2v1h-2zM84 321h2v1h-2zM125 321h1v1h-1zM139 321h1v1h-1zM138 326h2v1h-2zM91 335h2v1h-2zM50 336h1v1h-1zM71 340h1v1h-1zM127 343h1v1h-1zM124 345h1v1h-1zM94 346h2v1h-2zM130 346h2v1h-2zM59 358h1v1h-1zM72 359h1v1h-1zM110 362h2v1h-2zM46 365h2v1h-2zM99 365h2v1h-2zM115 367h1v1h-1zM75 373h2v1h-2zM127 373h2v1h-2zM53 374h2v1h-2zM55 380h1v1h-1zM45 381h1v1h-1zM131 381h1v1h-1zM47 382h1v1h-1zM83 383h2v1h-2zM42 384h1v1h-1zM74 384h1v1h-1zM78 384h1v1h-1zM130 384h1v1h-1zM132 384h1v1h-1zM144 384h2v1h-2zM33 385h1v1h-1zM60 385h1v1h-1zM100 386h1v1h-1zM93 391h1v1h-1zM129 393h2v1h-2z" fill="#8f8d2c" fill-opacity="0.8"/>
<path d="M103 303h1v1h-1zM144 303h1v1h-1zM34 305h1v1h-1zM59 305h2v1h-2zM80 305h1v1h-1zM117 305h1v1h-1zM42 306h2v1h-2zM70 306h1v1h-1zM71 306h2v1h-2zM73 306h1v1h-1zM144 306h1v1h-1zM85 307h1v1h-1zM87 310h2v1h-2zM71 318h2v1h-2zM63 321h2v1h-2zM87 321h1v1h-1zM52 332h1v1h-1zM85 340h2v1h-2zM44 344h1v1h-1zM38 365h1v1h-1zM72 365h1v1h-1zM130 367h1v1h-1zM70 368h1v1h-1zM44 370h2v1h-2zM39 382h1v1h-1zM136 384h1v1h-1zM133 385h1v1h-1zM138 385h1v1h-1zM85 386h2v1h-2zM35 387h2v1h-2zM78 389h1v1h-1zM139 391h2v1h-2zM44 393h1v1h-1z" fill="#8f8d2c" fill-opacity="0.9"/>
<line x1="59.9" y1="303" x2="59.9" y2="394.2" stroke="#1a1a1a" stroke-width="1" stroke-dasharray="1.7 1.1"/>
<line x1="31.4" y1="303" x2="31.4" y2="394.7" stroke="#262626" stroke-width="1" />
<line x1="30.9" y1="394.2" x2="146" y2="394.2" stroke="#262626" stroke-width="1" />
<line x1="31.4" y1="394.2" x2="33.2" y2="394.2" stroke="#262626" stroke-width="1" />
<text x="29.6" y="394.6" font-family="'Liberation Sans', sans-serif" font-size="8.4" fill="#111" text-anchor="end" font-weight="normal" font-style="normal" >0</text>
<line x1="31.4" y1="367.8" x2="33.2" y2="367.8" stroke="#262626" stroke-width="1" />
<text x="29.6" y="370.6" font-family="'Liberation Sans', sans-serif" font-size="8.4" fill="#111" text-anchor="end" font-weight="normal" font-style="normal" >20</text>
<line x1="31.4" y1="341.4" x2="33.2" y2="341.4" stroke="#262626" stroke-width="1" />
<text x="29.6" y="344.2" font-family="'Liberation Sans', sans-serif" font-size="8.4" fill="#111" text-anchor="end" font-weight="normal" font-style="normal" >40</text>
<line x1="31.4" y1="315" x2="33.2" y2="315" stroke="#262626" stroke-width="1" />
<text x="29.6" y="317.8" font-family="'Liberation Sans', sans-serif" font-size="8.4" fill="#111" text-anchor="end" font-weight="normal" font-style="normal" >60</text>
<line x1="31.3" y1="394.2" x2="31.3" y2="392.4" stroke="#262626" stroke-width="1" />
<text x="31.3" y="403.8" font-family="'Liberation Sans', sans-serif" font-size="8.4" fill="#111" text-anchor="middle" font-weight="normal" font-style="normal" >-0.5</text>
<line x1="59.9" y1="394.2" x2="59.9" y2="392.4" stroke="#262626" stroke-width="1" />
<text x="59.9" y="403.8" font-family="'Liberation Sans', sans-serif" font-size="8.4" fill="#111" text-anchor="middle" font-weight="normal" font-style="normal" >0</text>
<line x1="88.5" y1="394.2" x2="88.5" y2="392.4" stroke="#262626" stroke-width="1" />
<text x="88.5" y="403.8" font-family="'Liberation Sans', sans-serif" font-size="8.4" fill="#111" text-anchor="middle" font-weight="normal" font-style="normal" >0.5</text>
<line x1="117.1" y1="394.2" x2="117.1" y2="392.4" stroke="#262626" stroke-width="1" />
<text x="117.1" y="403.8" font-family="'Liberation Sans', sans-serif" font-size="8.4" fill="#111" text-anchor="middle" font-weight="normal" font-style="normal" >1</text>
<line x1="145.7" y1="394.2" x2="145.7" y2="392.4" stroke="#262626" stroke-width="1" />
<text x="145.7" y="403.8" font-family="'Liberation Sans', sans-serif" font-size="8.4" fill="#111" text-anchor="middle" font-weight="normal" font-style="normal" >1.5</text>
<text x="88.3" y="296.5" font-family="'Liberation Sans', sans-serif" font-size="8.5" fill="#111" text-anchor="middle" font-weight="normal" font-style="normal" >Array L4</text>
<text x="88.5" y="413.6" font-family="'Liberation Sans', sans-serif" font-size="8.4" fill="#111" text-anchor="middle" font-weight="normal" font-style="normal" >Time from cue (s)</text>
<text transform="translate(14.6,348.8) rotate(-90)" x="0" y="0" font-family="&quot;Liberation Sans&quot;, sans-serif" font-size="8.4" fill="#111" text-anchor="middle">Cells</text>
<defs><linearGradient id="gd" x1="0" y1="1" x2="0" y2="0"><stop offset="0" stop-color="#4a5fb0"/><stop offset="0.08" stop-color="#3582d0"/><stop offset="0.2" stop-color="#21a3dd"/><stop offset="0.95" stop-color="#1faadf"/><stop offset="0.96" stop-color="#9cc070"/><stop offset="0.98" stop-color="#e7b438"/><stop offset="1" stop-color="#e9b036"/></linearGradient></defs>
<rect x="151" y="303.2" width="9.7" height="90.4" fill="url(#gd)"/>
<defs><linearGradient id="gc" x1="0" y1="1" x2="0" y2="0"><stop offset="0" stop-color="#3a3490"/><stop offset="0.15" stop-color="#2a5ac8"/><stop offset="0.33" stop-color="#1b87d4"/><stop offset="0.45" stop-color="#0ea5c8"/><stop offset="0.6" stop-color="#36b99c"/><stop offset="0.72" stop-color="#8cc074"/><stop offset="0.84" stop-color="#d6bb54"/><stop offset="0.9" stop-color="#fcc52e"/><stop offset="1" stop-color="#f8f41a"/></linearGradient></defs>
<rect x="165.2" y="303.6" width="5.4" height="90.5" fill="url(#gc)" stroke="#444" stroke-width="0.8"/>
<line x1="169.6" y1="314.3" x2="170.6" y2="314.3" stroke="#333" stroke-width="0.8" />
<text x="172.6" y="317.3" font-family="'Liberation Sans', sans-serif" font-size="8.5" fill="#111" text-anchor="start" font-weight="normal" font-style="normal" >0.2</text>
<line x1="169.6" y1="337.1" x2="170.6" y2="337.1" stroke="#333" stroke-width="0.8" />
<text x="172.6" y="340.1" font-family="'Liberation Sans', sans-serif" font-size="8.5" fill="#111" text-anchor="start" font-weight="normal" font-style="normal" >0.1</text>
<line x1="169.6" y1="359.9" x2="170.6" y2="359.9" stroke="#333" stroke-width="0.8" />
<text x="172.6" y="362.9" font-family="'Liberation Sans', sans-serif" font-size="8.5" fill="#111" text-anchor="start" font-weight="normal" font-style="normal" >0</text>
<line x1="169.6" y1="382.7" x2="170.6" y2="382.7" stroke="#333" stroke-width="0.8" />
<text x="172.6" y="385.7" font-family="'Liberation Sans', sans-serif" font-size="8.5" fill="#111" text-anchor="start" font-weight="normal" font-style="normal" >-0.1</text>
<text x="192.6" y="271" font-family="&quot;Liberation Sans&quot;, sans-serif" font-size="13.5" font-weight="bold" fill="#000">e</text>
<path d="M194.1,278.4 L684.2,278.4" stroke="#bb9bd6" stroke-width="1.2" fill="none" stroke-dasharray="7.07 6.93" stroke-dashoffset="3.54"/>
<path d="M194.1,278.4 L194.1,428.2" stroke="#bb9bd6" stroke-width="1.2" fill="none" stroke-dasharray="6.88 6.74" stroke-dashoffset="3.44"/>
<path d="M684.2,278.4 L684.2,428.2" stroke="#bb9bd6" stroke-width="1.2" fill="none" stroke-dasharray="6.88 6.74" stroke-dashoffset="3.44"/>
<path d="M194.1,428.2 L684.2,428.2" stroke="#bb9bd6" stroke-width="1.2" fill="none" stroke-dasharray="7.07 6.93" stroke-dashoffset="3.54"/>
<path d="M227 303h1v1h-1zM290 303h1v1h-1zM317 303h1v1h-1zM243 304h1v1h-1zM290 304h2v1h-2zM292 304h1v1h-1zM225 305h1v1h-1zM242 305h1v1h-1zM252 306h2v1h-2zM280 306h1v1h-1zM290 306h1v1h-1zM303 306h2v1h-2zM305 306h2v1h-2zM335 307h2v1h-2zM312 308h1v1h-1zM239 309h1v1h-1zM293 309h1v1h-1zM310 309h1v1h-1zM323 309h1v1h-1zM321 310h1v1h-1zM268 311h2v1h-2zM278 311h1v1h-1zM296 311h1v1h-1zM224 312h1v1h-1zM258 314h2v1h-2zM331 315h2v1h-2zM255 317h2v1h-2zM244 318h1v1h-1zM296 319h2v1h-2zM233 320h1v1h-1zM258 320h1v1h-1zM308 320h2v1h-2zM273 321h2v1h-2zM287 321h1v1h-1zM289 323h1v1h-1zM222 324h1v1h-1zM333 324h2v1h-2zM296 325h1v1h-1zM325 325h1v1h-1zM324 326h2v1h-2zM266 327h1v1h-1zM312 328h1v1h-1zM286 329h2v1h-2zM310 329h1v1h-1zM334 329h1v1h-1zM257 330h1v1h-1zM331 330h1v1h-1zM326 332h1v1h-1zM288 334h1v1h-1zM311 335h1v1h-1zM263 338h1v1h-1zM327 338h1v1h-1zM257 343h1v1h-1zM294 347h2v1h-2zM319 347h1v1h-1zM334 348h1v1h-1zM333 352h2v1h-2zM280 357h2v1h-2zM230 362h1v1h-1zM226 364h1v1h-1zM326 367h1v1h-1zM275 371h1v1h-1zM223 372h1v1h-1zM230 374h2v1h-2zM274 377h2v1h-2zM306 379h1v1h-1zM316 379h1v1h-1zM240 382h1v1h-1zM316 384h1v1h-1zM243 385h1v1h-1zM285 385h1v1h-1zM259 386h2v1h-2zM293 386h1v1h-1zM332 386h1v1h-1zM278 387h1v1h-1zM323 387h1v1h-1zM256 389h1v1h-1zM262 390h1v1h-1zM302 393h1v1h-1z" fill="#3550b0" fill-opacity="0.1"/>
<path d="M251 303h2v1h-2zM232 304h1v1h-1zM284 304h2v1h-2zM305 304h1v1h-1zM224 305h1v1h-1zM238 305h2v1h-2zM253 305h2v1h-2zM260 305h2v1h-2zM271 305h2v1h-2zM275 305h2v1h-2zM286 305h1v1h-1zM308 305h1v1h-1zM322 305h2v1h-2zM325 305h1v1h-1zM327 305h1v1h-1zM329 305h1v1h-1zM271 306h1v1h-1zM277 306h2v1h-2zM225 307h1v1h-1zM239 307h1v1h-1zM241 307h1v1h-1zM282 307h2v1h-2zM315 307h1v1h-1zM333 307h1v1h-1zM227 308h2v1h-2zM258 308h1v1h-1zM295 308h1v1h-1zM296 308h2v1h-2zM303 308h1v1h-1zM306 308h1v1h-1zM321 308h2v1h-2zM325 308h1v1h-1zM291 309h1v1h-1zM223 310h1v1h-1zM258 310h1v1h-1zM324 310h1v1h-1zM329 310h1v1h-1zM250 311h1v1h-1zM266 311h1v1h-1zM243 312h1v1h-1zM321 312h2v1h-2zM287 313h1v1h-1zM295 313h1v1h-1zM237 314h2v1h-2zM291 314h1v1h-1zM291 315h2v1h-2zM321 315h1v1h-1zM322 315h1v1h-1zM253 316h2v1h-2zM297 316h1v1h-1zM315 316h1v1h-1zM243 317h1v1h-1zM254 318h1v1h-1zM262 318h2v1h-2zM297 318h2v1h-2zM259 319h1v1h-1zM321 319h2v1h-2zM295 320h1v1h-1zM332 320h2v1h-2zM303 323h1v1h-1zM225 324h2v1h-2zM282 325h1v1h-1zM331 326h1v1h-1zM225 327h1v1h-1zM222 329h1v1h-1zM223 329h2v1h-2zM240 329h1v1h-1zM249 329h2v1h-2zM270 329h1v1h-1zM280 329h2v1h-2zM288 329h1v1h-1zM290 329h2v1h-2zM292 329h1v1h-1zM293 329h1v1h-1zM294 329h1v1h-1zM298 329h1v1h-1zM316 329h2v1h-2zM227 330h2v1h-2zM234 330h1v1h-1zM234 331h1v1h-1zM292 331h1v1h-1zM283 332h1v1h-1zM254 333h1v1h-1zM277 333h2v1h-2zM277 334h2v1h-2zM226 336h1v1h-1zM265 336h1v1h-1zM260 337h1v1h-1zM327 337h1v1h-1zM336 337h2v1h-2zM223 339h1v1h-1zM296 340h1v1h-1zM297 340h1v1h-1zM229 341h1v1h-1zM227 343h1v1h-1zM269 344h1v1h-1zM330 344h2v1h-2zM272 345h1v1h-1zM253 346h2v1h-2zM325 346h1v1h-1zM276 348h2v1h-2zM271 349h1v1h-1zM278 351h1v1h-1zM315 353h1v1h-1zM311 354h1v1h-1zM303 355h1v1h-1zM256 357h1v1h-1zM322 358h1v1h-1zM287 361h1v1h-1zM306 362h2v1h-2zM306 363h1v1h-1zM277 364h1v1h-1zM284 364h2v1h-2zM234 367h2v1h-2zM272 367h1v1h-1zM276 367h2v1h-2zM318 367h1v1h-1zM225 368h1v1h-1zM231 369h1v1h-1zM316 370h1v1h-1zM281 371h2v1h-2zM291 374h1v1h-1zM321 374h1v1h-1zM226 377h1v1h-1zM314 377h1v1h-1zM279 378h1v1h-1zM318 378h2v1h-2zM334 378h2v1h-2zM222 379h1v1h-1zM227 379h1v1h-1zM312 379h2v1h-2zM252 381h1v1h-1zM297 381h2v1h-2zM300 381h2v1h-2zM304 381h1v1h-1zM334 383h1v1h-1zM225 385h1v1h-1zM279 385h1v1h-1zM323 385h1v1h-1zM240 386h1v1h-1zM269 386h2v1h-2zM272 386h1v1h-1zM312 386h1v1h-1zM328 386h2v1h-2zM248 388h1v1h-1zM278 388h1v1h-1zM315 389h1v1h-1zM325 389h1v1h-1zM272 390h2v1h-2zM286 390h1v1h-1zM251 391h2v1h-2zM254 391h1v1h-1zM279 392h1v1h-1zM314 392h2v1h-2zM245 393h1v1h-1z" fill="#3550b0" fill-opacity="0.2"/>
<path d="M276 303h1v1h-1zM289 303h1v1h-1zM310 303h1v1h-1zM335 303h1v1h-1zM224 304h1v1h-1zM236 304h1v1h-1zM300 304h2v1h-2zM321 304h1v1h-1zM236 305h1v1h-1zM241 305h1v1h-1zM255 305h2v1h-2zM259 305h1v1h-1zM263 305h1v1h-1zM285 305h1v1h-1zM302 305h1v1h-1zM309 305h1v1h-1zM311 305h2v1h-2zM315 305h1v1h-1zM319 305h1v1h-1zM235 306h2v1h-2zM275 306h2v1h-2zM283 306h1v1h-1zM315 306h1v1h-1zM317 306h1v1h-1zM318 306h1v1h-1zM234 307h1v1h-1zM272 307h1v1h-1zM314 307h1v1h-1zM321 307h1v1h-1zM238 308h1v1h-1zM267 308h1v1h-1zM302 308h1v1h-1zM319 308h1v1h-1zM334 308h1v1h-1zM272 309h1v1h-1zM240 310h1v1h-1zM252 310h1v1h-1zM317 310h2v1h-2zM277 311h1v1h-1zM292 311h1v1h-1zM232 312h1v1h-1zM272 313h2v1h-2zM267 315h1v1h-1zM311 315h1v1h-1zM234 318h1v1h-1zM312 319h2v1h-2zM318 319h1v1h-1zM299 321h1v1h-1zM258 322h1v1h-1zM324 322h1v1h-1zM263 323h2v1h-2zM287 324h1v1h-1zM305 324h2v1h-2zM252 325h1v1h-1zM257 327h1v1h-1zM290 327h1v1h-1zM306 327h1v1h-1zM228 328h1v1h-1zM247 329h1v1h-1zM257 329h1v1h-1zM274 329h2v1h-2zM301 329h1v1h-1zM304 329h1v1h-1zM318 329h1v1h-1zM310 330h2v1h-2zM327 330h1v1h-1zM276 332h1v1h-1zM314 332h1v1h-1zM274 333h1v1h-1zM332 333h2v1h-2zM254 334h2v1h-2zM261 335h1v1h-1zM272 335h1v1h-1zM285 335h1v1h-1zM291 335h1v1h-1zM286 337h1v1h-1zM310 337h1v1h-1zM224 339h1v1h-1zM300 339h2v1h-2zM233 340h2v1h-2zM236 340h2v1h-2zM276 340h1v1h-1zM295 340h1v1h-1zM328 340h2v1h-2zM270 341h1v1h-1zM292 343h1v1h-1zM309 343h2v1h-2zM255 344h1v1h-1zM264 344h1v1h-1zM270 344h1v1h-1zM296 344h1v1h-1zM277 346h2v1h-2zM262 347h2v1h-2zM328 347h1v1h-1zM311 349h1v1h-1zM256 354h1v1h-1zM315 357h1v1h-1zM268 362h1v1h-1zM310 362h2v1h-2zM230 364h1v1h-1zM248 364h2v1h-2zM280 365h2v1h-2zM287 366h1v1h-1zM308 366h1v1h-1zM250 368h2v1h-2zM330 368h1v1h-1zM334 369h1v1h-1zM306 371h1v1h-1zM236 372h1v1h-1zM287 372h1v1h-1zM309 372h1v1h-1zM230 373h1v1h-1zM322 373h2v1h-2zM292 374h2v1h-2zM295 374h2v1h-2zM323 374h1v1h-1zM303 375h2v1h-2zM305 375h2v1h-2zM239 376h1v1h-1zM309 376h1v1h-1zM270 378h1v1h-1zM297 378h1v1h-1zM222 380h1v1h-1zM247 380h1v1h-1zM225 381h2v1h-2zM292 382h1v1h-1zM270 383h1v1h-1zM330 384h1v1h-1zM252 385h2v1h-2zM295 385h1v1h-1zM326 386h1v1h-1zM276 387h1v1h-1zM307 387h1v1h-1zM321 387h2v1h-2zM286 388h1v1h-1zM258 389h2v1h-2zM292 390h1v1h-1zM261 393h1v1h-1z" fill="#3550b0" fill-opacity="0.3"/>
<path d="M330 303h1v1h-1zM334 303h1v1h-1zM228 304h2v1h-2zM279 304h1v1h-1zM294 304h1v1h-1zM248 305h1v1h-1zM252 305h1v1h-1zM262 305h1v1h-1zM266 305h1v1h-1zM268 305h1v1h-1zM288 305h2v1h-2zM300 305h2v1h-2zM303 305h2v1h-2zM310 305h1v1h-1zM316 305h2v1h-2zM328 305h1v1h-1zM332 305h1v1h-1zM229 306h1v1h-1zM237 306h1v1h-1zM255 306h1v1h-1zM272 306h2v1h-2zM286 306h2v1h-2zM235 307h2v1h-2zM256 307h2v1h-2zM273 307h1v1h-1zM231 308h2v1h-2zM298 308h1v1h-1zM245 309h1v1h-1zM259 309h1v1h-1zM295 309h1v1h-1zM321 309h1v1h-1zM233 310h1v1h-1zM249 310h1v1h-1zM289 310h1v1h-1zM315 310h1v1h-1zM258 311h1v1h-1zM264 311h1v1h-1zM315 311h1v1h-1zM319 311h2v1h-2zM256 313h1v1h-1zM268 313h1v1h-1zM288 313h1v1h-1zM230 314h1v1h-1zM246 314h1v1h-1zM255 314h1v1h-1zM330 316h1v1h-1zM308 317h1v1h-1zM240 318h1v1h-1zM288 318h1v1h-1zM308 318h1v1h-1zM316 318h1v1h-1zM277 320h1v1h-1zM223 321h2v1h-2zM236 321h1v1h-1zM232 324h1v1h-1zM226 328h1v1h-1zM277 328h1v1h-1zM225 329h2v1h-2zM244 329h2v1h-2zM246 329h1v1h-1zM263 329h2v1h-2zM302 329h1v1h-1zM328 329h1v1h-1zM224 331h1v1h-1zM256 331h1v1h-1zM265 333h1v1h-1zM317 333h2v1h-2zM247 334h1v1h-1zM289 334h2v1h-2zM257 335h1v1h-1zM331 335h2v1h-2zM249 336h1v1h-1zM257 336h1v1h-1zM304 336h1v1h-1zM316 336h1v1h-1zM301 337h2v1h-2zM316 339h2v1h-2zM260 340h1v1h-1zM303 340h1v1h-1zM331 340h2v1h-2zM248 342h1v1h-1zM257 342h1v1h-1zM330 343h1v1h-1zM286 344h1v1h-1zM298 344h2v1h-2zM286 347h1v1h-1zM336 348h1v1h-1zM226 349h1v1h-1zM259 349h2v1h-2zM232 353h1v1h-1zM299 358h1v1h-1zM278 359h1v1h-1zM300 359h1v1h-1zM284 362h1v1h-1zM234 363h1v1h-1zM254 363h2v1h-2zM262 363h2v1h-2zM272 365h1v1h-1zM306 367h1v1h-1zM309 367h1v1h-1zM328 368h1v1h-1zM296 370h1v1h-1zM333 371h1v1h-1zM292 372h1v1h-1zM295 373h2v1h-2zM336 373h2v1h-2zM287 374h2v1h-2zM243 375h2v1h-2zM233 376h1v1h-1zM241 376h1v1h-1zM301 377h1v1h-1zM230 378h2v1h-2zM241 378h1v1h-1zM253 378h2v1h-2zM251 379h2v1h-2zM319 379h2v1h-2zM258 381h1v1h-1zM311 381h1v1h-1zM249 382h1v1h-1zM278 382h2v1h-2zM295 382h1v1h-1zM310 382h1v1h-1zM332 382h2v1h-2zM312 383h2v1h-2zM237 384h1v1h-1zM260 385h1v1h-1zM306 386h1v1h-1zM268 388h2v1h-2zM288 389h2v1h-2zM266 391h1v1h-1zM267 393h2v1h-2z" fill="#3550b0" fill-opacity="0.4"/>
<path d="M235 303h1v1h-1zM278 303h2v1h-2zM287 303h2v1h-2zM311 303h1v1h-1zM312 303h1v1h-1zM257 304h2v1h-2zM283 304h1v1h-1zM335 304h2v1h-2zM273 305h1v1h-1zM284 305h1v1h-1zM290 305h2v1h-2zM297 305h1v1h-1zM305 305h2v1h-2zM301 306h1v1h-1zM237 307h2v1h-2zM249 308h1v1h-1zM273 308h1v1h-1zM278 308h1v1h-1zM246 309h1v1h-1zM333 309h2v1h-2zM307 310h1v1h-1zM324 311h1v1h-1zM328 311h2v1h-2zM222 312h1v1h-1zM307 314h1v1h-1zM328 316h2v1h-2zM245 317h2v1h-2zM290 318h2v1h-2zM330 318h1v1h-1zM315 320h1v1h-1zM336 320h2v1h-2zM245 324h1v1h-1zM298 327h2v1h-2zM323 327h2v1h-2zM281 328h2v1h-2zM295 329h2v1h-2zM299 329h2v1h-2zM306 329h1v1h-1zM323 329h1v1h-1zM325 329h1v1h-1zM330 329h2v1h-2zM316 332h1v1h-1zM235 336h2v1h-2zM230 337h1v1h-1zM232 337h2v1h-2zM313 338h1v1h-1zM335 338h2v1h-2zM293 339h2v1h-2zM312 339h1v1h-1zM273 340h1v1h-1zM306 340h1v1h-1zM289 341h1v1h-1zM235 342h1v1h-1zM267 342h1v1h-1zM239 343h1v1h-1zM248 343h2v1h-2zM276 343h2v1h-2zM296 343h2v1h-2zM313 343h1v1h-1zM229 344h1v1h-1zM289 344h2v1h-2zM270 345h1v1h-1zM246 347h1v1h-1zM309 348h2v1h-2zM330 351h1v1h-1zM325 353h1v1h-1zM269 358h1v1h-1zM291 359h1v1h-1zM242 364h1v1h-1zM326 365h1v1h-1zM229 368h2v1h-2zM335 368h1v1h-1zM310 369h1v1h-1zM299 370h2v1h-2zM259 371h1v1h-1zM285 373h2v1h-2zM294 375h2v1h-2zM304 376h1v1h-1zM224 377h1v1h-1zM234 377h1v1h-1zM249 377h1v1h-1zM264 378h1v1h-1zM256 379h1v1h-1zM259 379h1v1h-1zM246 380h1v1h-1zM232 381h1v1h-1zM231 382h2v1h-2zM258 382h1v1h-1zM319 382h1v1h-1zM334 384h1v1h-1zM240 385h1v1h-1zM293 385h2v1h-2zM301 390h2v1h-2zM275 392h1v1h-1zM297 393h1v1h-1z" fill="#3550b0" fill-opacity="0.5"/>
<path d="M239 303h1v1h-1zM275 303h1v1h-1zM332 303h2v1h-2zM265 304h2v1h-2zM280 304h1v1h-1zM329 304h1v1h-1zM222 305h2v1h-2zM229 305h2v1h-2zM232 305h2v1h-2zM240 305h1v1h-1zM244 305h2v1h-2zM251 305h1v1h-1zM270 305h1v1h-1zM277 305h1v1h-1zM280 305h2v1h-2zM299 305h1v1h-1zM313 305h1v1h-1zM314 305h1v1h-1zM320 305h1v1h-1zM324 305h1v1h-1zM326 305h1v1h-1zM330 305h1v1h-1zM335 305h2v1h-2zM234 306h1v1h-1zM321 306h1v1h-1zM331 306h1v1h-1zM335 306h2v1h-2zM251 307h2v1h-2zM303 307h2v1h-2zM307 307h2v1h-2zM243 308h1v1h-1zM272 310h1v1h-1zM298 310h1v1h-1zM229 311h1v1h-1zM281 311h1v1h-1zM307 311h1v1h-1zM333 311h1v1h-1zM255 312h1v1h-1zM247 314h1v1h-1zM264 314h2v1h-2zM286 314h1v1h-1zM246 315h1v1h-1zM263 315h2v1h-2zM306 315h1v1h-1zM244 317h1v1h-1zM307 317h1v1h-1zM257 320h1v1h-1zM294 323h1v1h-1zM297 324h2v1h-2zM311 324h2v1h-2zM284 325h1v1h-1zM326 327h2v1h-2zM232 329h1v1h-1zM233 329h2v1h-2zM241 329h1v1h-1zM303 329h1v1h-1zM327 329h1v1h-1zM236 331h1v1h-1zM298 331h1v1h-1zM240 333h1v1h-1zM286 333h1v1h-1zM231 335h1v1h-1zM319 335h1v1h-1zM282 336h1v1h-1zM224 337h1v1h-1zM251 337h1v1h-1zM317 337h2v1h-2zM244 338h1v1h-1zM289 338h1v1h-1zM264 339h1v1h-1zM284 340h1v1h-1zM253 341h1v1h-1zM290 341h1v1h-1zM234 343h2v1h-2zM222 344h2v1h-2zM336 344h1v1h-1zM267 346h1v1h-1zM253 348h1v1h-1zM328 349h1v1h-1zM316 362h1v1h-1zM235 363h1v1h-1zM278 363h1v1h-1zM313 363h1v1h-1zM318 365h2v1h-2zM261 372h1v1h-1zM317 375h1v1h-1zM243 377h1v1h-1zM246 377h1v1h-1zM316 378h1v1h-1zM258 380h1v1h-1zM260 380h1v1h-1zM222 381h2v1h-2zM307 381h1v1h-1zM237 382h1v1h-1zM302 388h1v1h-1zM228 389h2v1h-2zM320 391h2v1h-2zM295 393h1v1h-1zM326 393h1v1h-1z" fill="#3550b0" fill-opacity="0.6"/>
<path d="M241 303h1v1h-1zM268 303h1v1h-1zM272 303h1v1h-1zM274 303h1v1h-1zM260 304h1v1h-1zM226 305h1v1h-1zM249 305h2v1h-2zM279 305h1v1h-1zM282 305h2v1h-2zM294 305h1v1h-1zM334 305h1v1h-1zM241 306h1v1h-1zM266 307h1v1h-1zM307 308h2v1h-2zM274 309h1v1h-1zM303 309h1v1h-1zM311 309h2v1h-2zM246 310h1v1h-1zM308 311h1v1h-1zM303 312h2v1h-2zM330 312h2v1h-2zM232 313h1v1h-1zM282 313h2v1h-2zM284 313h2v1h-2zM321 313h1v1h-1zM260 314h1v1h-1zM276 314h1v1h-1zM318 315h1v1h-1zM252 316h1v1h-1zM306 317h1v1h-1zM283 318h1v1h-1zM252 319h1v1h-1zM261 319h1v1h-1zM267 319h1v1h-1zM327 319h1v1h-1zM278 321h1v1h-1zM225 322h2v1h-2zM322 324h1v1h-1zM300 325h1v1h-1zM256 326h1v1h-1zM243 329h1v1h-1zM260 329h1v1h-1zM315 329h1v1h-1zM291 330h2v1h-2zM240 332h2v1h-2zM285 334h1v1h-1zM299 334h1v1h-1zM308 334h2v1h-2zM251 335h2v1h-2zM303 335h1v1h-1zM296 337h2v1h-2zM310 339h2v1h-2zM249 341h2v1h-2zM332 342h1v1h-1zM238 344h2v1h-2zM297 344h1v1h-1zM314 344h2v1h-2zM286 348h1v1h-1zM301 356h1v1h-1zM315 356h1v1h-1zM292 360h1v1h-1zM242 363h1v1h-1zM275 363h1v1h-1zM301 363h1v1h-1zM253 366h1v1h-1zM332 366h2v1h-2zM251 369h1v1h-1zM231 371h1v1h-1zM242 375h1v1h-1zM255 377h1v1h-1zM298 377h1v1h-1zM321 377h1v1h-1zM236 378h1v1h-1zM225 379h1v1h-1zM322 382h1v1h-1zM262 384h1v1h-1zM258 385h2v1h-2zM298 385h1v1h-1zM334 385h1v1h-1zM242 387h2v1h-2zM269 389h1v1h-1zM301 389h1v1h-1zM334 389h2v1h-2zM330 390h2v1h-2zM323 391h2v1h-2zM325 392h2v1h-2z" fill="#3550b0" fill-opacity="0.7"/>
<path d="M257 305h2v1h-2zM265 305h1v1h-1zM333 305h1v1h-1zM284 306h2v1h-2zM253 307h2v1h-2zM317 308h1v1h-1zM237 309h1v1h-1zM320 309h1v1h-1zM331 310h1v1h-1zM261 311h1v1h-1zM311 311h2v1h-2zM331 311h2v1h-2zM299 312h1v1h-1zM274 315h2v1h-2zM240 316h2v1h-2zM312 316h1v1h-1zM336 316h1v1h-1zM278 320h1v1h-1zM296 322h2v1h-2zM255 325h2v1h-2zM320 325h1v1h-1zM239 326h1v1h-1zM251 329h2v1h-2zM329 329h1v1h-1zM237 331h2v1h-2zM299 339h1v1h-1zM335 339h1v1h-1zM238 340h2v1h-2zM281 340h2v1h-2zM312 342h1v1h-1zM325 342h2v1h-2zM299 353h1v1h-1zM280 362h1v1h-1zM316 369h2v1h-2zM332 371h1v1h-1zM243 372h1v1h-1zM330 372h1v1h-1zM233 373h1v1h-1zM239 374h1v1h-1zM265 374h1v1h-1zM319 374h2v1h-2zM232 377h1v1h-1zM289 379h1v1h-1zM294 381h1v1h-1zM326 381h1v1h-1zM265 384h2v1h-2zM290 384h1v1h-1zM267 386h2v1h-2zM300 386h1v1h-1zM259 392h1v1h-1z" fill="#3550b0" fill-opacity="0.8"/>
<line x1="250.5" y1="303.2" x2="250.5" y2="394.2" stroke="#1a1a1a" stroke-width="1" stroke-dasharray="1.7 1.1"/>
<line x1="221.2" y1="303.2" x2="221.2" y2="394.7" stroke="#262626" stroke-width="1" />
<line x1="220.7" y1="394.2" x2="336.6" y2="394.2" stroke="#262626" stroke-width="1" />
<line x1="221.2" y1="393.6" x2="223" y2="393.6" stroke="#262626" stroke-width="1" />
<text x="219.4" y="394" font-family="'Liberation Sans', sans-serif" font-size="8.4" fill="#111" text-anchor="end" font-weight="normal" font-style="normal" >0</text>
<line x1="221.2" y1="364.95" x2="223" y2="364.95" stroke="#262626" stroke-width="1" />
<text x="219.4" y="367.75" font-family="'Liberation Sans', sans-serif" font-size="8.4" fill="#111" text-anchor="end" font-weight="normal" font-style="normal" >50</text>
<line x1="221.2" y1="336.3" x2="223" y2="336.3" stroke="#262626" stroke-width="1" />
<text x="219.4" y="339.1" font-family="'Liberation Sans', sans-serif" font-size="8.4" fill="#111" text-anchor="end" font-weight="normal" font-style="normal" >100</text>
<line x1="221.2" y1="307.65" x2="223" y2="307.65" stroke="#262626" stroke-width="1" />
<text x="219.4" y="310.45" font-family="'Liberation Sans', sans-serif" font-size="8.4" fill="#111" text-anchor="end" font-weight="normal" font-style="normal" >150</text>
<line x1="221.3" y1="394.2" x2="221.3" y2="392.4" stroke="#262626" stroke-width="1" />
<text x="221.3" y="403.8" font-family="'Liberation Sans', sans-serif" font-size="8.4" fill="#111" text-anchor="middle" font-weight="normal" font-style="normal" >-0.5</text>
<line x1="250.1" y1="394.2" x2="250.1" y2="392.4" stroke="#262626" stroke-width="1" />
<text x="250.1" y="403.8" font-family="'Liberation Sans', sans-serif" font-size="8.4" fill="#111" text-anchor="middle" font-weight="normal" font-style="normal" >0</text>
<line x1="278.9" y1="394.2" x2="278.9" y2="392.4" stroke="#262626" stroke-width="1" />
<text x="278.9" y="403.8" font-family="'Liberation Sans', sans-serif" font-size="8.4" fill="#111" text-anchor="middle" font-weight="normal" font-style="normal" >0.5</text>
<line x1="307.7" y1="394.2" x2="307.7" y2="392.4" stroke="#262626" stroke-width="1" />
<text x="307.7" y="403.8" font-family="'Liberation Sans', sans-serif" font-size="8.4" fill="#111" text-anchor="middle" font-weight="normal" font-style="normal" >1</text>
<line x1="336.5" y1="394.2" x2="336.5" y2="392.4" stroke="#262626" stroke-width="1" />
<text x="336.5" y="403.8" font-family="'Liberation Sans', sans-serif" font-size="8.4" fill="#111" text-anchor="middle" font-weight="normal" font-style="normal" >1.5</text>
<text x="279.1" y="296.5" font-family="'Liberation Sans', sans-serif" font-size="8.5" fill="#111" text-anchor="middle" font-weight="normal" font-style="normal" >Array L3</text>
<text x="278.9" y="413.6" font-family="'Liberation Sans', sans-serif" font-size="8.4" fill="#111" text-anchor="middle" font-weight="normal" font-style="normal" >Time from cue (s)</text>
<text transform="translate(205.2,348.8) rotate(-90)" x="0" y="0" font-family="&quot;Liberation Sans&quot;, sans-serif" font-size="8.4" fill="#111" text-anchor="middle">Cells</text>
<defs><linearGradient id="g3" x1="0" y1="1" x2="0" y2="0"><stop offset="0" stop-color="#4a56a8"/><stop offset="0.1" stop-color="#3e6cbc"/><stop offset="0.3" stop-color="#2e8cd0"/><stop offset="0.55" stop-color="#26a0dc"/><stop offset="0.85" stop-color="#25abd6"/><stop offset="0.95" stop-color="#30b8b8"/><stop offset="1" stop-color="#3cbea4"/></linearGradient></defs>
<rect x="341.3" y="303.4" width="9.7" height="90.6" fill="url(#g3)"/>
<path d="M387 304h1v1h-1zM404 304h2v1h-2zM451 304h1v1h-1zM452 304h2v1h-2zM464 304h1v1h-1zM472 304h1v1h-1zM473 304h2v1h-2zM475 304h1v1h-1zM487 304h1v1h-1zM387 305h1v1h-1zM404 305h2v1h-2zM474 305h1v1h-1zM481 305h1v1h-1zM466 306h2v1h-2zM478 306h1v1h-1zM388 307h1v1h-1zM392 307h2v1h-2zM394 307h1v1h-1zM410 307h2v1h-2zM420 307h1v1h-1zM474 308h1v1h-1zM487 308h1v1h-1zM466 309h2v1h-2zM391 310h1v1h-1zM404 310h1v1h-1zM421 310h1v1h-1zM432 310h1v1h-1zM494 310h1v1h-1zM401 311h1v1h-1zM415 311h1v1h-1zM443 311h2v1h-2zM468 311h2v1h-2zM474 311h2v1h-2zM438 312h2v1h-2zM460 312h1v1h-1zM421 314h2v1h-2zM429 314h1v1h-1zM460 314h2v1h-2zM418 315h2v1h-2zM495 315h2v1h-2zM423 316h1v1h-1zM425 316h1v1h-1zM434 316h1v1h-1zM494 316h2v1h-2zM494 317h1v1h-1zM497 317h2v1h-2zM387 322h2v1h-2zM440 322h1v1h-1zM398 323h2v1h-2zM463 323h1v1h-1zM492 323h2v1h-2zM389 324h1v1h-1zM406 324h1v1h-1zM441 324h1v1h-1zM412 332h2v1h-2zM432 337h1v1h-1zM489 342h1v1h-1zM461 343h1v1h-1zM418 355h2v1h-2zM426 360h2v1h-2zM406 370h1v1h-1zM430 370h2v1h-2zM409 372h2v1h-2zM483 372h1v1h-1zM492 372h1v1h-1zM403 373h2v1h-2zM407 373h1v1h-1zM411 374h1v1h-1zM422 374h1v1h-1zM398 375h2v1h-2zM428 375h2v1h-2zM436 375h1v1h-1zM447 375h1v1h-1zM488 375h2v1h-2zM392 376h2v1h-2zM473 376h1v1h-1zM493 376h2v1h-2zM415 377h1v1h-1zM445 377h1v1h-1zM419 378h1v1h-1zM393 379h1v1h-1zM423 379h1v1h-1zM456 380h2v1h-2zM414 381h1v1h-1zM400 382h1v1h-1zM404 382h2v1h-2zM481 382h2v1h-2zM397 383h2v1h-2zM406 383h2v1h-2zM410 383h1v1h-1zM462 383h1v1h-1zM477 383h1v1h-1zM432 384h2v1h-2zM398 385h2v1h-2zM408 385h1v1h-1zM411 385h2v1h-2zM444 385h1v1h-1zM474 385h1v1h-1zM467 387h2v1h-2zM469 387h1v1h-1zM436 388h1v1h-1zM439 388h1v1h-1zM493 388h1v1h-1zM395 391h1v1h-1zM391 392h1v1h-1z" fill="#5cbf3c" fill-opacity="0.2"/>
<path d="M398 304h2v1h-2zM423 304h1v1h-1zM432 304h1v1h-1zM440 304h1v1h-1zM442 304h1v1h-1zM445 304h1v1h-1zM449 304h1v1h-1zM450 304h1v1h-1zM456 304h2v1h-2zM463 304h1v1h-1zM490 304h2v1h-2zM418 305h1v1h-1zM428 305h2v1h-2zM472 305h1v1h-1zM473 305h1v1h-1zM480 305h1v1h-1zM485 305h2v1h-2zM487 305h2v1h-2zM419 306h2v1h-2zM465 306h1v1h-1zM391 307h1v1h-1zM412 307h2v1h-2zM451 307h2v1h-2zM409 308h1v1h-1zM443 308h1v1h-1zM451 308h1v1h-1zM466 308h1v1h-1zM480 308h1v1h-1zM407 309h1v1h-1zM470 309h1v1h-1zM478 309h1v1h-1zM488 309h1v1h-1zM385 310h1v1h-1zM390 310h1v1h-1zM413 310h1v1h-1zM414 310h1v1h-1zM444 310h1v1h-1zM451 310h1v1h-1zM477 310h2v1h-2zM488 310h2v1h-2zM497 310h2v1h-2zM407 311h1v1h-1zM449 311h1v1h-1zM486 311h2v1h-2zM401 312h2v1h-2zM433 312h1v1h-1zM390 313h1v1h-1zM408 313h1v1h-1zM417 313h2v1h-2zM439 313h2v1h-2zM449 313h1v1h-1zM483 313h1v1h-1zM430 314h2v1h-2zM455 315h1v1h-1zM494 315h1v1h-1zM404 317h1v1h-1zM471 319h1v1h-1zM411 320h1v1h-1zM477 320h2v1h-2zM413 321h1v1h-1zM435 321h2v1h-2zM403 322h2v1h-2zM444 322h1v1h-1zM457 322h2v1h-2zM479 322h1v1h-1zM493 322h1v1h-1zM497 322h2v1h-2zM394 323h2v1h-2zM442 323h2v1h-2zM469 323h1v1h-1zM391 324h2v1h-2zM401 324h1v1h-1zM425 324h1v1h-1zM452 324h1v1h-1zM456 324h1v1h-1zM472 324h2v1h-2zM474 324h1v1h-1zM470 328h1v1h-1zM483 328h1v1h-1zM494 343h1v1h-1zM468 344h1v1h-1zM459 347h1v1h-1zM419 350h1v1h-1zM425 351h2v1h-2zM416 352h2v1h-2zM461 353h2v1h-2zM401 366h1v1h-1zM425 366h2v1h-2zM474 371h1v1h-1zM394 372h1v1h-1zM402 372h2v1h-2zM456 372h1v1h-1zM490 372h1v1h-1zM483 373h2v1h-2zM396 374h1v1h-1zM409 374h2v1h-2zM429 374h1v1h-1zM431 374h1v1h-1zM477 374h1v1h-1zM461 375h1v1h-1zM486 375h2v1h-2zM493 375h2v1h-2zM389 376h1v1h-1zM415 376h2v1h-2zM419 376h1v1h-1zM447 376h1v1h-1zM470 376h1v1h-1zM391 377h1v1h-1zM430 377h1v1h-1zM452 377h1v1h-1zM460 377h1v1h-1zM426 378h1v1h-1zM466 378h1v1h-1zM434 379h1v1h-1zM437 379h1v1h-1zM460 379h2v1h-2zM464 379h1v1h-1zM465 379h1v1h-1zM483 379h1v1h-1zM462 380h1v1h-1zM465 380h1v1h-1zM487 380h1v1h-1zM403 381h1v1h-1zM422 381h2v1h-2zM435 381h2v1h-2zM453 381h1v1h-1zM486 381h1v1h-1zM492 381h2v1h-2zM497 382h2v1h-2zM400 383h1v1h-1zM415 383h1v1h-1zM417 383h2v1h-2zM428 383h1v1h-1zM438 383h1v1h-1zM443 383h2v1h-2zM468 383h1v1h-1zM471 384h2v1h-2zM387 385h2v1h-2zM442 385h1v1h-1zM443 385h1v1h-1zM459 385h2v1h-2zM472 385h2v1h-2zM477 385h2v1h-2zM444 386h1v1h-1zM493 386h2v1h-2zM392 387h2v1h-2zM410 387h2v1h-2zM478 387h1v1h-1zM397 388h2v1h-2zM464 388h1v1h-1zM466 388h1v1h-1zM477 388h1v1h-1zM398 389h1v1h-1zM444 389h2v1h-2zM443 390h1v1h-1zM469 391h2v1h-2zM411 393h2v1h-2z" fill="#5cbf3c" fill-opacity="0.3"/>
<path d="M392 304h2v1h-2zM400 304h2v1h-2zM480 304h2v1h-2zM486 304h1v1h-1zM386 305h1v1h-1zM395 305h1v1h-1zM399 305h1v1h-1zM403 305h1v1h-1zM412 305h1v1h-1zM419 305h1v1h-1zM423 305h1v1h-1zM424 305h2v1h-2zM442 305h2v1h-2zM459 305h1v1h-1zM409 306h2v1h-2zM453 306h2v1h-2zM400 307h2v1h-2zM408 307h2v1h-2zM488 307h2v1h-2zM441 308h2v1h-2zM494 308h1v1h-1zM455 309h2v1h-2zM496 309h1v1h-1zM393 310h1v1h-1zM492 310h1v1h-1zM460 311h1v1h-1zM391 312h2v1h-2zM415 313h1v1h-1zM429 313h1v1h-1zM433 313h1v1h-1zM395 314h1v1h-1zM397 314h1v1h-1zM402 314h1v1h-1zM437 314h2v1h-2zM468 314h1v1h-1zM481 314h1v1h-1zM450 315h1v1h-1zM458 315h1v1h-1zM462 315h1v1h-1zM484 315h1v1h-1zM489 315h2v1h-2zM404 316h1v1h-1zM439 316h2v1h-2zM472 316h1v1h-1zM416 317h1v1h-1zM430 319h1v1h-1zM436 319h1v1h-1zM418 322h2v1h-2zM436 322h1v1h-1zM454 322h1v1h-1zM471 322h1v1h-1zM472 322h1v1h-1zM421 323h2v1h-2zM465 323h2v1h-2zM484 323h2v1h-2zM488 323h1v1h-1zM495 323h1v1h-1zM386 324h2v1h-2zM396 324h1v1h-1zM407 324h1v1h-1zM448 324h1v1h-1zM471 324h1v1h-1zM488 324h1v1h-1zM497 329h1v1h-1zM439 333h2v1h-2zM476 348h1v1h-1zM479 359h1v1h-1zM480 359h2v1h-2zM467 361h2v1h-2zM411 370h1v1h-1zM414 370h1v1h-1zM387 371h2v1h-2zM387 373h1v1h-1zM395 373h1v1h-1zM431 373h1v1h-1zM446 373h1v1h-1zM493 373h1v1h-1zM423 374h2v1h-2zM437 374h2v1h-2zM489 374h2v1h-2zM396 375h2v1h-2zM439 375h1v1h-1zM497 375h2v1h-2zM442 376h1v1h-1zM386 377h2v1h-2zM402 377h2v1h-2zM469 377h1v1h-1zM395 378h1v1h-1zM410 378h1v1h-1zM411 378h2v1h-2zM462 378h1v1h-1zM472 378h1v1h-1zM424 379h2v1h-2zM404 380h1v1h-1zM446 380h1v1h-1zM427 381h1v1h-1zM445 381h1v1h-1zM467 383h1v1h-1zM487 383h1v1h-1zM439 384h2v1h-2zM405 385h2v1h-2zM420 385h1v1h-1zM424 385h1v1h-1zM427 385h2v1h-2zM396 386h1v1h-1zM441 387h1v1h-1zM418 388h2v1h-2zM423 388h1v1h-1zM451 388h2v1h-2zM459 388h1v1h-1zM497 388h2v1h-2zM436 389h2v1h-2zM447 389h2v1h-2zM453 389h1v1h-1zM482 389h1v1h-1z" fill="#5cbf3c" fill-opacity="0.4"/>
<path d="M390 304h1v1h-1zM406 304h1v1h-1zM415 304h1v1h-1zM420 304h1v1h-1zM441 304h1v1h-1zM466 304h2v1h-2zM492 304h1v1h-1zM493 304h2v1h-2zM385 305h1v1h-1zM388 305h1v1h-1zM397 305h2v1h-2zM409 305h1v1h-1zM413 305h1v1h-1zM432 305h2v1h-2zM437 305h1v1h-1zM446 305h1v1h-1zM455 305h1v1h-1zM491 305h2v1h-2zM393 306h2v1h-2zM481 306h1v1h-1zM439 307h2v1h-2zM493 307h1v1h-1zM400 308h2v1h-2zM402 308h2v1h-2zM404 308h1v1h-1zM435 308h1v1h-1zM447 308h2v1h-2zM470 308h1v1h-1zM484 308h2v1h-2zM491 308h1v1h-1zM391 309h2v1h-2zM429 309h1v1h-1zM463 309h1v1h-1zM411 310h1v1h-1zM440 310h1v1h-1zM416 311h1v1h-1zM420 311h1v1h-1zM434 311h1v1h-1zM476 311h1v1h-1zM412 312h1v1h-1zM388 313h1v1h-1zM394 315h1v1h-1zM399 315h2v1h-2zM441 315h2v1h-2zM458 316h1v1h-1zM474 316h1v1h-1zM447 317h1v1h-1zM450 317h1v1h-1zM473 317h1v1h-1zM388 319h1v1h-1zM392 319h2v1h-2zM433 322h2v1h-2zM404 323h1v1h-1zM424 323h1v1h-1zM417 324h1v1h-1zM434 324h1v1h-1zM446 324h1v1h-1zM450 324h2v1h-2zM491 324h1v1h-1zM494 324h2v1h-2zM385 327h2v1h-2zM476 328h1v1h-1zM398 336h1v1h-1zM405 338h2v1h-2zM455 340h1v1h-1zM413 342h2v1h-2zM394 345h2v1h-2zM393 348h2v1h-2zM418 352h1v1h-1zM445 354h1v1h-1zM455 360h1v1h-1zM456 363h2v1h-2zM478 364h1v1h-1zM443 368h2v1h-2zM453 372h2v1h-2zM462 372h2v1h-2zM464 372h2v1h-2zM389 373h1v1h-1zM433 373h2v1h-2zM488 373h2v1h-2zM386 374h2v1h-2zM405 375h2v1h-2zM458 375h1v1h-1zM466 375h1v1h-1zM433 376h1v1h-1zM476 377h2v1h-2zM389 379h1v1h-1zM392 379h1v1h-1zM435 379h2v1h-2zM488 380h1v1h-1zM417 381h1v1h-1zM406 382h1v1h-1zM415 382h1v1h-1zM419 382h1v1h-1zM427 382h1v1h-1zM438 382h1v1h-1zM454 382h1v1h-1zM385 383h2v1h-2zM432 383h2v1h-2zM403 384h1v1h-1zM462 384h2v1h-2zM393 385h1v1h-1zM400 385h1v1h-1zM405 386h1v1h-1zM419 386h2v1h-2zM450 386h2v1h-2zM419 387h1v1h-1zM472 387h2v1h-2zM458 388h1v1h-1zM467 388h1v1h-1zM394 391h1v1h-1z" fill="#5cbf3c" fill-opacity="0.5"/>
<path d="M414 304h1v1h-1zM437 304h2v1h-2zM443 304h2v1h-2zM458 304h1v1h-1zM488 304h2v1h-2zM392 305h2v1h-2zM400 305h2v1h-2zM447 305h1v1h-1zM468 305h1v1h-1zM482 305h1v1h-1zM483 305h1v1h-1zM448 307h1v1h-1zM470 307h2v1h-2zM419 308h2v1h-2zM433 308h1v1h-1zM458 308h2v1h-2zM467 308h1v1h-1zM394 309h1v1h-1zM440 309h1v1h-1zM436 310h1v1h-1zM460 310h2v1h-2zM469 310h1v1h-1zM436 311h2v1h-2zM453 311h2v1h-2zM456 311h1v1h-1zM478 311h1v1h-1zM450 312h1v1h-1zM458 312h2v1h-2zM456 313h1v1h-1zM490 313h2v1h-2zM492 314h1v1h-1zM412 315h2v1h-2zM420 315h2v1h-2zM497 315h1v1h-1zM387 316h2v1h-2zM481 316h1v1h-1zM427 318h1v1h-1zM391 319h1v1h-1zM412 320h2v1h-2zM393 322h2v1h-2zM412 322h1v1h-1zM421 322h1v1h-1zM447 322h2v1h-2zM474 322h2v1h-2zM445 323h1v1h-1zM442 324h2v1h-2zM468 324h1v1h-1zM405 325h1v1h-1zM497 328h1v1h-1zM402 329h1v1h-1zM390 337h1v1h-1zM462 347h1v1h-1zM431 352h1v1h-1zM389 353h2v1h-2zM400 371h1v1h-1zM413 371h1v1h-1zM460 373h1v1h-1zM486 373h1v1h-1zM456 374h2v1h-2zM480 375h1v1h-1zM462 376h1v1h-1zM489 377h1v1h-1zM494 377h1v1h-1zM428 378h2v1h-2zM458 378h2v1h-2zM482 378h1v1h-1zM438 379h1v1h-1zM441 379h1v1h-1zM411 380h1v1h-1zM429 380h2v1h-2zM478 380h2v1h-2zM490 380h1v1h-1zM442 381h2v1h-2zM495 381h2v1h-2zM463 382h1v1h-1zM402 383h2v1h-2zM484 383h1v1h-1zM487 384h1v1h-1zM409 385h2v1h-2zM432 385h1v1h-1zM411 386h2v1h-2zM461 386h2v1h-2zM487 386h1v1h-1zM420 387h2v1h-2zM491 387h2v1h-2zM390 388h1v1h-1zM403 388h1v1h-1zM455 389h2v1h-2zM463 389h1v1h-1zM394 390h1v1h-1zM399 391h1v1h-1zM433 391h2v1h-2zM406 392h1v1h-1zM425 392h1v1h-1zM426 392h1v1h-1z" fill="#5cbf3c" fill-opacity="0.6"/>
<path d="M402 304h1v1h-1zM408 304h1v1h-1zM419 304h1v1h-1zM424 304h2v1h-2zM435 304h1v1h-1zM394 305h1v1h-1zM406 305h1v1h-1zM426 305h1v1h-1zM438 305h1v1h-1zM467 305h1v1h-1zM469 305h2v1h-2zM493 305h2v1h-2zM386 306h2v1h-2zM405 306h2v1h-2zM396 307h2v1h-2zM390 308h2v1h-2zM461 309h2v1h-2zM394 310h2v1h-2zM405 310h1v1h-1zM408 310h2v1h-2zM419 310h2v1h-2zM441 310h1v1h-1zM447 310h1v1h-1zM468 310h1v1h-1zM395 311h2v1h-2zM404 311h1v1h-1zM492 311h2v1h-2zM395 312h1v1h-1zM431 312h2v1h-2zM469 312h2v1h-2zM452 313h2v1h-2zM472 313h1v1h-1zM486 313h2v1h-2zM407 314h2v1h-2zM409 314h1v1h-1zM398 316h2v1h-2zM436 316h2v1h-2zM454 316h2v1h-2zM385 317h1v1h-1zM386 319h2v1h-2zM471 320h2v1h-2zM488 320h2v1h-2zM401 322h1v1h-1zM415 322h1v1h-1zM490 322h1v1h-1zM415 323h2v1h-2zM436 323h1v1h-1zM478 323h2v1h-2zM395 328h2v1h-2zM404 338h1v1h-1zM420 343h2v1h-2zM473 351h1v1h-1zM488 368h1v1h-1zM473 372h1v1h-1zM444 374h1v1h-1zM468 374h1v1h-1zM386 375h1v1h-1zM481 375h1v1h-1zM402 376h2v1h-2zM421 376h1v1h-1zM454 376h1v1h-1zM455 376h1v1h-1zM404 377h1v1h-1zM406 377h1v1h-1zM454 377h1v1h-1zM466 377h1v1h-1zM408 380h1v1h-1zM419 380h1v1h-1zM431 380h1v1h-1zM471 380h1v1h-1zM455 381h1v1h-1zM397 382h1v1h-1zM460 382h2v1h-2zM489 382h2v1h-2zM437 383h1v1h-1zM447 383h1v1h-1zM436 384h1v1h-1zM438 384h1v1h-1zM451 384h1v1h-1zM454 384h2v1h-2zM461 384h1v1h-1zM481 384h2v1h-2zM390 385h1v1h-1zM430 388h1v1h-1zM479 388h1v1h-1zM483 388h2v1h-2zM494 388h1v1h-1zM387 389h1v1h-1zM494 389h2v1h-2z" fill="#5cbf3c" fill-opacity="0.7"/>
<path d="M413 304h1v1h-1zM427 304h1v1h-1zM446 304h2v1h-2zM469 304h2v1h-2zM390 305h2v1h-2zM440 305h1v1h-1zM449 305h2v1h-2zM463 305h1v1h-1zM447 306h2v1h-2zM451 306h2v1h-2zM389 307h1v1h-1zM395 307h1v1h-1zM455 307h1v1h-1zM432 308h1v1h-1zM398 310h2v1h-2zM459 310h1v1h-1zM486 310h1v1h-1zM454 317h1v1h-1zM420 319h1v1h-1zM426 319h1v1h-1zM432 332h1v1h-1zM459 336h2v1h-2zM472 337h2v1h-2zM401 341h2v1h-2zM482 343h2v1h-2zM491 369h1v1h-1zM395 372h1v1h-1zM418 372h1v1h-1zM435 372h1v1h-1zM467 372h2v1h-2zM406 374h1v1h-1zM444 378h2v1h-2zM455 379h2v1h-2zM470 379h1v1h-1zM441 380h1v1h-1zM395 381h2v1h-2zM398 381h1v1h-1zM408 383h2v1h-2zM425 383h2v1h-2zM460 383h1v1h-1zM470 383h1v1h-1zM411 384h2v1h-2zM413 384h1v1h-1zM459 384h1v1h-1zM392 386h1v1h-1zM474 390h1v1h-1zM497 390h2v1h-2z" fill="#5cbf3c" fill-opacity="0.8"/>
<line x1="412.5" y1="304.6" x2="412.5" y2="394.5" stroke="#1a1a1a" stroke-width="1" stroke-dasharray="1.7 1.1"/>
<line x1="383.7" y1="304.6" x2="383.7" y2="395" stroke="#262626" stroke-width="1" />
<line x1="383.2" y1="394.5" x2="498.1" y2="394.5" stroke="#262626" stroke-width="1" />
<line x1="383.7" y1="394.5" x2="385.5" y2="394.5" stroke="#262626" stroke-width="1" />
<text x="381.9" y="394.9" font-family="'Liberation Sans', sans-serif" font-size="8.4" fill="#111" text-anchor="end" font-weight="normal" font-style="normal" >0</text>
<line x1="383.7" y1="377.14" x2="385.5" y2="377.14" stroke="#262626" stroke-width="1" />
<text x="381.9" y="379.94" font-family="'Liberation Sans', sans-serif" font-size="8.4" fill="#111" text-anchor="end" font-weight="normal" font-style="normal" >20</text>
<line x1="383.7" y1="359.78" x2="385.5" y2="359.78" stroke="#262626" stroke-width="1" />
<text x="381.9" y="362.58" font-family="'Liberation Sans', sans-serif" font-size="8.4" fill="#111" text-anchor="end" font-weight="normal" font-style="normal" >40</text>
<line x1="383.7" y1="342.42" x2="385.5" y2="342.42" stroke="#262626" stroke-width="1" />
<text x="381.9" y="345.22" font-family="'Liberation Sans', sans-serif" font-size="8.4" fill="#111" text-anchor="end" font-weight="normal" font-style="normal" >60</text>
<line x1="383.7" y1="325.06" x2="385.5" y2="325.06" stroke="#262626" stroke-width="1" />
<text x="381.9" y="327.86" font-family="'Liberation Sans', sans-serif" font-size="8.4" fill="#111" text-anchor="end" font-weight="normal" font-style="normal" >80</text>
<line x1="383.7" y1="307.7" x2="385.5" y2="307.7" stroke="#262626" stroke-width="1" />
<text x="381.9" y="310.5" font-family="'Liberation Sans', sans-serif" font-size="8.4" fill="#111" text-anchor="end" font-weight="normal" font-style="normal" >100</text>
<line x1="383.7" y1="394.5" x2="383.7" y2="392.7" stroke="#262626" stroke-width="1" />
<text x="383.7" y="404.1" font-family="'Liberation Sans', sans-serif" font-size="8.4" fill="#111" text-anchor="middle" font-weight="normal" font-style="normal" >-0.5</text>
<line x1="412.3" y1="394.5" x2="412.3" y2="392.7" stroke="#262626" stroke-width="1" />
<text x="412.3" y="404.1" font-family="'Liberation Sans', sans-serif" font-size="8.4" fill="#111" text-anchor="middle" font-weight="normal" font-style="normal" >0</text>
<line x1="440.9" y1="394.5" x2="440.9" y2="392.7" stroke="#262626" stroke-width="1" />
<text x="440.9" y="404.1" font-family="'Liberation Sans', sans-serif" font-size="8.4" fill="#111" text-anchor="middle" font-weight="normal" font-style="normal" >0.5</text>
<line x1="469.5" y1="394.5" x2="469.5" y2="392.7" stroke="#262626" stroke-width="1" />
<text x="469.5" y="404.1" font-family="'Liberation Sans', sans-serif" font-size="8.4" fill="#111" text-anchor="middle" font-weight="normal" font-style="normal" >1</text>
<line x1="498.1" y1="394.5" x2="498.1" y2="392.7" stroke="#262626" stroke-width="1" />
<text x="498.1" y="404.1" font-family="'Liberation Sans', sans-serif" font-size="8.4" fill="#111" text-anchor="middle" font-weight="normal" font-style="normal" >1.5</text>
<text x="441.2" y="296.5" font-family="'Liberation Sans', sans-serif" font-size="8.5" fill="#111" text-anchor="middle" font-weight="normal" font-style="normal" >Array L2</text>
<text x="440.9" y="413.6" font-family="'Liberation Sans', sans-serif" font-size="8.4" fill="#111" text-anchor="middle" font-weight="normal" font-style="normal" >Time from cue (s)</text>
<text transform="translate(366.8,348.8) rotate(-90)" x="0" y="0" font-family="&quot;Liberation Sans&quot;, sans-serif" font-size="8.4" fill="#111" text-anchor="middle">Cells</text>
<defs><linearGradient id="g2" x1="0" y1="1" x2="0" y2="0"><stop offset="0" stop-color="#4a56a8"/><stop offset="0.1" stop-color="#3e6cbc"/><stop offset="0.25" stop-color="#2e8cd0"/><stop offset="0.5" stop-color="#24a2dc"/><stop offset="0.85" stop-color="#22aad8"/><stop offset="0.93" stop-color="#30b8b8"/><stop offset="0.975" stop-color="#70c088"/><stop offset="0.982" stop-color="#e0c030"/><stop offset="1" stop-color="#eccf22"/></linearGradient></defs>
<rect x="503.2" y="304.6" width="10" height="91" fill="url(#g2)"/>
<path d="M562 303h2v1h-2zM607 303h1v1h-1zM654 303h1v1h-1zM561 304h2v1h-2zM642 304h1v1h-1zM564 305h1v1h-1zM602 305h1v1h-1zM576 308h1v1h-1zM582 308h1v1h-1zM585 308h1v1h-1zM594 309h2v1h-2zM601 309h1v1h-1zM635 309h2v1h-2zM581 310h1v1h-1zM569 311h2v1h-2zM584 311h1v1h-1zM588 311h2v1h-2zM555 312h2v1h-2zM616 312h2v1h-2zM640 313h2v1h-2zM626 314h1v1h-1zM583 315h2v1h-2zM585 316h1v1h-1zM590 316h2v1h-2zM660 316h2v1h-2zM592 317h2v1h-2zM631 317h2v1h-2zM616 320h2v1h-2zM588 323h2v1h-2zM581 324h1v1h-1zM598 324h2v1h-2zM619 325h2v1h-2zM588 326h1v1h-1zM583 327h1v1h-1zM632 328h2v1h-2zM586 331h1v1h-1zM611 331h1v1h-1zM649 334h2v1h-2zM568 339h2v1h-2zM612 339h2v1h-2zM647 339h2v1h-2zM631 342h2v1h-2zM650 346h2v1h-2zM595 349h2v1h-2zM657 351h1v1h-1zM658 352h1v1h-1zM643 358h2v1h-2zM633 362h2v1h-2zM605 364h2v1h-2zM562 367h2v1h-2zM642 368h2v1h-2zM632 369h2v1h-2zM628 371h2v1h-2zM610 372h2v1h-2zM593 374h1v1h-1zM644 380h1v1h-1zM654 381h2v1h-2zM657 381h1v1h-1zM582 382h1v1h-1zM568 385h1v1h-1zM591 385h2v1h-2zM634 385h2v1h-2zM547 388h1v1h-1zM557 389h1v1h-1zM659 389h2v1h-2zM566 390h1v1h-1zM640 391h2v1h-2z" fill="#f03a48" fill-opacity="0.3"/>
<path d="M568 303h2v1h-2zM582 303h1v1h-1zM594 303h1v1h-1zM643 303h2v1h-2zM659 303h2v1h-2zM578 304h1v1h-1zM609 304h2v1h-2zM548 305h1v1h-1zM582 305h1v1h-1zM599 305h2v1h-2zM623 305h1v1h-1zM646 305h2v1h-2zM612 306h2v1h-2zM658 306h2v1h-2zM583 308h2v1h-2zM601 308h2v1h-2zM564 310h2v1h-2zM583 310h2v1h-2zM579 311h2v1h-2zM634 311h1v1h-1zM599 312h1v1h-1zM546 314h1v1h-1zM614 314h2v1h-2zM657 314h1v1h-1zM629 315h2v1h-2zM567 316h2v1h-2zM604 316h1v1h-1zM615 316h2v1h-2zM632 316h2v1h-2zM583 317h1v1h-1zM618 317h1v1h-1zM629 317h2v1h-2zM649 317h2v1h-2zM596 318h1v1h-1zM639 318h1v1h-1zM593 321h1v1h-1zM659 321h1v1h-1zM595 323h2v1h-2zM560 328h2v1h-2zM547 329h2v1h-2zM623 329h1v1h-1zM547 331h2v1h-2zM563 331h2v1h-2zM624 331h1v1h-1zM553 333h2v1h-2zM605 334h1v1h-1zM615 335h2v1h-2zM616 336h2v1h-2zM617 338h2v1h-2zM569 344h1v1h-1zM660 346h2v1h-2zM587 348h1v1h-1zM653 350h2v1h-2zM588 355h1v1h-1zM611 355h2v1h-2zM594 359h1v1h-1zM605 361h2v1h-2zM639 365h2v1h-2zM612 366h2v1h-2zM630 366h1v1h-1zM604 367h2v1h-2zM636 367h2v1h-2zM618 368h1v1h-1zM629 368h1v1h-1zM658 368h2v1h-2zM562 371h2v1h-2zM630 376h2v1h-2zM623 378h2v1h-2zM633 378h2v1h-2zM612 379h1v1h-1zM609 380h1v1h-1zM569 381h1v1h-1zM600 381h1v1h-1zM635 386h2v1h-2zM659 386h1v1h-1zM575 388h2v1h-2zM558 389h2v1h-2zM568 390h1v1h-1zM600 390h2v1h-2zM624 390h2v1h-2zM652 390h1v1h-1zM569 391h2v1h-2zM600 391h1v1h-1zM615 391h1v1h-1zM626 391h2v1h-2zM639 391h1v1h-1zM647 391h1v1h-1zM597 392h2v1h-2zM613 392h2v1h-2zM631 392h2v1h-2zM556 393h1v1h-1z" fill="#f03a48" fill-opacity="0.4"/>
<path d="M558 303h1v1h-1zM552 304h2v1h-2zM655 305h2v1h-2zM648 306h2v1h-2zM559 307h2v1h-2zM590 307h1v1h-1zM594 307h1v1h-1zM577 308h2v1h-2zM623 308h2v1h-2zM629 308h2v1h-2zM633 308h1v1h-1zM605 309h1v1h-1zM607 310h1v1h-1zM579 312h2v1h-2zM626 312h1v1h-1zM552 314h2v1h-2zM572 314h1v1h-1zM569 315h2v1h-2zM615 315h1v1h-1zM557 316h2v1h-2zM588 316h2v1h-2zM659 317h1v1h-1zM566 318h2v1h-2zM569 319h2v1h-2zM597 320h1v1h-1zM640 322h1v1h-1zM609 324h2v1h-2zM615 324h1v1h-1zM566 328h2v1h-2zM618 328h2v1h-2zM594 330h2v1h-2zM613 332h2v1h-2zM558 334h2v1h-2zM566 334h2v1h-2zM647 338h2v1h-2zM586 339h2v1h-2zM642 345h2v1h-2zM628 352h2v1h-2zM639 356h2v1h-2zM610 358h2v1h-2zM626 358h2v1h-2zM593 360h2v1h-2zM633 360h2v1h-2zM643 361h1v1h-1zM632 363h1v1h-1zM587 364h1v1h-1zM623 364h1v1h-1zM619 366h1v1h-1zM619 367h2v1h-2zM595 368h1v1h-1zM598 368h1v1h-1zM565 372h2v1h-2zM637 373h2v1h-2zM620 374h2v1h-2zM609 375h1v1h-1zM638 378h2v1h-2zM593 380h2v1h-2zM628 381h2v1h-2zM637 381h1v1h-1zM572 382h2v1h-2zM584 382h2v1h-2zM549 388h1v1h-1zM624 388h2v1h-2zM634 389h1v1h-1zM643 389h1v1h-1zM596 391h1v1h-1zM604 391h2v1h-2zM623 391h1v1h-1zM600 392h2v1h-2zM603 392h2v1h-2z" fill="#f03a48" fill-opacity="0.5"/>
<path d="M603 304h2v1h-2zM660 304h2v1h-2zM643 305h2v1h-2zM579 306h1v1h-1zM614 306h1v1h-1zM657 307h1v1h-1zM589 310h1v1h-1zM553 312h2v1h-2zM587 312h1v1h-1zM659 314h1v1h-1zM553 316h2v1h-2zM573 318h2v1h-2zM565 320h2v1h-2zM590 320h2v1h-2zM628 321h2v1h-2zM593 322h1v1h-1zM628 323h2v1h-2zM654 324h2v1h-2zM624 326h2v1h-2zM580 329h1v1h-1zM603 330h1v1h-1zM547 334h2v1h-2zM553 335h2v1h-2zM621 338h2v1h-2zM591 342h2v1h-2zM629 342h1v1h-1zM620 347h2v1h-2zM548 348h1v1h-1zM576 348h2v1h-2zM619 349h2v1h-2zM559 351h1v1h-1zM602 353h2v1h-2zM597 354h1v1h-1zM644 354h1v1h-1zM601 356h1v1h-1zM650 356h1v1h-1zM635 358h2v1h-2zM600 359h2v1h-2zM577 361h1v1h-1zM631 361h1v1h-1zM568 362h2v1h-2zM639 369h2v1h-2zM608 370h2v1h-2zM560 371h1v1h-1zM593 372h1v1h-1zM592 375h2v1h-2zM604 376h2v1h-2zM603 378h2v1h-2zM619 379h2v1h-2zM629 379h2v1h-2zM642 386h1v1h-1zM653 387h1v1h-1zM549 389h2v1h-2zM551 390h1v1h-1zM593 390h2v1h-2zM548 391h2v1h-2zM614 393h1v1h-1z" fill="#f03a48" fill-opacity="0.6"/>
<path d="M555 303h2v1h-2zM576 303h2v1h-2zM625 303h1v1h-1zM603 307h2v1h-2zM550 309h1v1h-1zM630 309h2v1h-2zM631 312h1v1h-1zM566 315h2v1h-2zM627 315h1v1h-1zM568 323h1v1h-1zM638 323h1v1h-1zM546 325h2v1h-2zM586 330h2v1h-2zM629 331h2v1h-2zM587 336h2v1h-2zM604 339h1v1h-1zM597 341h1v1h-1zM552 342h2v1h-2zM640 348h2v1h-2zM582 350h1v1h-1zM580 355h1v1h-1zM572 356h1v1h-1zM588 358h2v1h-2zM596 359h1v1h-1zM635 360h2v1h-2zM623 361h1v1h-1zM653 361h1v1h-1zM602 362h2v1h-2zM583 363h1v1h-1zM589 363h1v1h-1zM624 364h1v1h-1zM646 365h1v1h-1zM645 366h2v1h-2zM592 367h1v1h-1zM616 369h2v1h-2zM578 371h1v1h-1zM636 372h1v1h-1zM603 374h1v1h-1zM563 376h2v1h-2zM640 378h1v1h-1zM660 378h1v1h-1zM565 379h2v1h-2zM589 382h2v1h-2zM623 382h1v1h-1zM641 385h1v1h-1zM620 386h1v1h-1zM609 388h2v1h-2zM651 388h2v1h-2zM601 391h2v1h-2zM581 392h2v1h-2zM634 392h2v1h-2zM652 392h2v1h-2zM588 393h2v1h-2zM604 393h2v1h-2z" fill="#f03a48" fill-opacity="0.7"/>
<path d="M632 303h2v1h-2zM587 304h2v1h-2zM569 305h1v1h-1zM610 305h2v1h-2zM635 305h1v1h-1zM584 306h1v1h-1zM624 307h1v1h-1zM595 308h2v1h-2zM629 310h1v1h-1zM654 311h1v1h-1zM594 312h2v1h-2zM660 312h2v1h-2zM602 314h2v1h-2zM562 315h2v1h-2zM591 317h1v1h-1zM621 318h2v1h-2zM556 323h2v1h-2zM603 324h2v1h-2zM660 325h1v1h-1zM574 331h2v1h-2zM653 337h1v1h-1zM615 339h1v1h-1zM553 345h2v1h-2zM572 354h2v1h-2zM610 354h1v1h-1zM641 354h1v1h-1zM613 355h2v1h-2zM590 362h2v1h-2zM554 366h1v1h-1zM597 367h2v1h-2zM591 371h2v1h-2zM575 372h1v1h-1zM563 378h2v1h-2zM635 378h2v1h-2zM593 379h1v1h-1zM633 381h1v1h-1zM649 382h2v1h-2zM587 385h1v1h-1zM644 386h2v1h-2zM653 386h2v1h-2zM585 387h2v1h-2zM630 387h1v1h-1zM606 390h2v1h-2zM553 391h2v1h-2zM607 391h2v1h-2zM620 392h1v1h-1zM649 392h1v1h-1zM628 393h1v1h-1z" fill="#f03a48" fill-opacity="0.8"/>
<line x1="574.4" y1="303.2" x2="574.4" y2="394.5" stroke="#1a1a1a" stroke-width="1" stroke-dasharray="1.7 1.1"/>
<line x1="545.5" y1="303.2" x2="545.5" y2="395" stroke="#262626" stroke-width="1" />
<line x1="545" y1="394.5" x2="661" y2="394.5" stroke="#262626" stroke-width="1" />
<line x1="545.5" y1="394.5" x2="547.3" y2="394.5" stroke="#262626" stroke-width="1" />
<text x="543.7" y="394.9" font-family="'Liberation Sans', sans-serif" font-size="8.4" fill="#111" text-anchor="end" font-weight="normal" font-style="normal" >0</text>
<line x1="545.5" y1="377.98" x2="547.3" y2="377.98" stroke="#262626" stroke-width="1" />
<text x="543.7" y="380.78" font-family="'Liberation Sans', sans-serif" font-size="8.4" fill="#111" text-anchor="end" font-weight="normal" font-style="normal" >20</text>
<line x1="545.5" y1="361.46" x2="547.3" y2="361.46" stroke="#262626" stroke-width="1" />
<text x="543.7" y="364.26" font-family="'Liberation Sans', sans-serif" font-size="8.4" fill="#111" text-anchor="end" font-weight="normal" font-style="normal" >40</text>
<line x1="545.5" y1="344.94" x2="547.3" y2="344.94" stroke="#262626" stroke-width="1" />
<text x="543.7" y="347.74" font-family="'Liberation Sans', sans-serif" font-size="8.4" fill="#111" text-anchor="end" font-weight="normal" font-style="normal" >60</text>
<line x1="545.5" y1="328.42" x2="547.3" y2="328.42" stroke="#262626" stroke-width="1" />
<text x="543.7" y="331.22" font-family="'Liberation Sans', sans-serif" font-size="8.4" fill="#111" text-anchor="end" font-weight="normal" font-style="normal" >80</text>
<line x1="545.5" y1="311.9" x2="547.3" y2="311.9" stroke="#262626" stroke-width="1" />
<text x="543.7" y="314.7" font-family="'Liberation Sans', sans-serif" font-size="8.4" fill="#111" text-anchor="end" font-weight="normal" font-style="normal" >100</text>
<line x1="545.6" y1="394.5" x2="545.6" y2="392.7" stroke="#262626" stroke-width="1" />
<text x="545.6" y="404.1" font-family="'Liberation Sans', sans-serif" font-size="8.4" fill="#111" text-anchor="middle" font-weight="normal" font-style="normal" >-0.5</text>
<line x1="574.4" y1="394.5" x2="574.4" y2="392.7" stroke="#262626" stroke-width="1" />
<text x="574.4" y="404.1" font-family="'Liberation Sans', sans-serif" font-size="8.4" fill="#111" text-anchor="middle" font-weight="normal" font-style="normal" >0</text>
<line x1="603.2" y1="394.5" x2="603.2" y2="392.7" stroke="#262626" stroke-width="1" />
<text x="603.2" y="404.1" font-family="'Liberation Sans', sans-serif" font-size="8.4" fill="#111" text-anchor="middle" font-weight="normal" font-style="normal" >0.5</text>
<line x1="632" y1="394.5" x2="632" y2="392.7" stroke="#262626" stroke-width="1" />
<text x="632" y="404.1" font-family="'Liberation Sans', sans-serif" font-size="8.4" fill="#111" text-anchor="middle" font-weight="normal" font-style="normal" >1</text>
<line x1="660.8" y1="394.5" x2="660.8" y2="392.7" stroke="#262626" stroke-width="1" />
<text x="660.8" y="404.1" font-family="'Liberation Sans', sans-serif" font-size="8.4" fill="#111" text-anchor="middle" font-weight="normal" font-style="normal" >1.5</text>
<text x="602.5" y="296.5" font-family="'Liberation Sans', sans-serif" font-size="8.5" fill="#111" text-anchor="middle" font-weight="normal" font-style="normal" >Array L1</text>
<text x="603.2" y="413.6" font-family="'Liberation Sans', sans-serif" font-size="8.4" fill="#111" text-anchor="middle" font-weight="normal" font-style="normal" >Time from cue (s)</text>
<text transform="translate(528.9,348.8) rotate(-90)" x="0" y="0" font-family="&quot;Liberation Sans&quot;, sans-serif" font-size="8.4" fill="#111" text-anchor="middle">Cells</text>
<defs><linearGradient id="g1" x1="0" y1="1" x2="0" y2="0"><stop offset="0" stop-color="#4a50a0"/><stop offset="0.08" stop-color="#3c68b8"/><stop offset="0.2" stop-color="#2e88cc"/><stop offset="0.4" stop-color="#279cd8"/><stop offset="0.85" stop-color="#25a6dc"/><stop offset="0.95" stop-color="#1db4cc"/><stop offset="1" stop-color="#1cbcc0"/></linearGradient></defs>
<rect x="665.1" y="303.1" width="9.8" height="90.4" fill="url(#g1)"/>
<path d="M141.2,15.6 Q139,70 114.5,113.5" fill="none" stroke="#a3a3a3" stroke-width="1.3" stroke-dasharray="3.8 3"/>
<path d="M111.2,120.3 L113.5,110 L115.53,113.98 L120,114.4 Z" fill="#a3a3a3"/>
<path d="M272.8,20.8 L292.5,67" fill="none" stroke="#cfcfa2" stroke-width="1.2"/>
<path d="M294.8,71.6 L288,65.6 L292.42,65.91 L295.5,63 Z" fill="#cfcfa2"/>
<path d="M495.6,18.5 C485,28 465,36 456,45 C448,56 451,70 444.5,80" fill="none" stroke="#5fc3ee" stroke-width="1.2"/>
<path d="M441.6,84.2 L443.2,76.6 L445.66,79.29 L450.4,79.2 Z" fill="#5fc3ee"/>
<path d="M562.6,17.1 L569.5,44" fill="none" stroke="#bb9bd6" stroke-width="1.3"/>
<path d="M571.5,51.7 L565.2,43.3 L569.63,44.33 L573,41.2 Z" fill="#bb9bd6"/>
<path d="M212.6,183.6 C226,185 229,200 224,222 C218,238 190,243 160,250 C138,255 118,259 107.5,268" fill="none" stroke="#cfcfa2" stroke-width="1.2"/>
<path d="M102.2,273.4 L106,263.4 L107.58,267.78 L112.2,269 Z" fill="#cfcfa2"/>
<path d="M453.6,244.5 L425,268.5" fill="none" stroke="#bb9bd6" stroke-width="1.2"/>
<path d="M420.9,273.2 L424.2,266.5 L425.89,269.57 L430.4,270.6 Z" fill="#bb9bd6"/>
</svg>
</body></html>
